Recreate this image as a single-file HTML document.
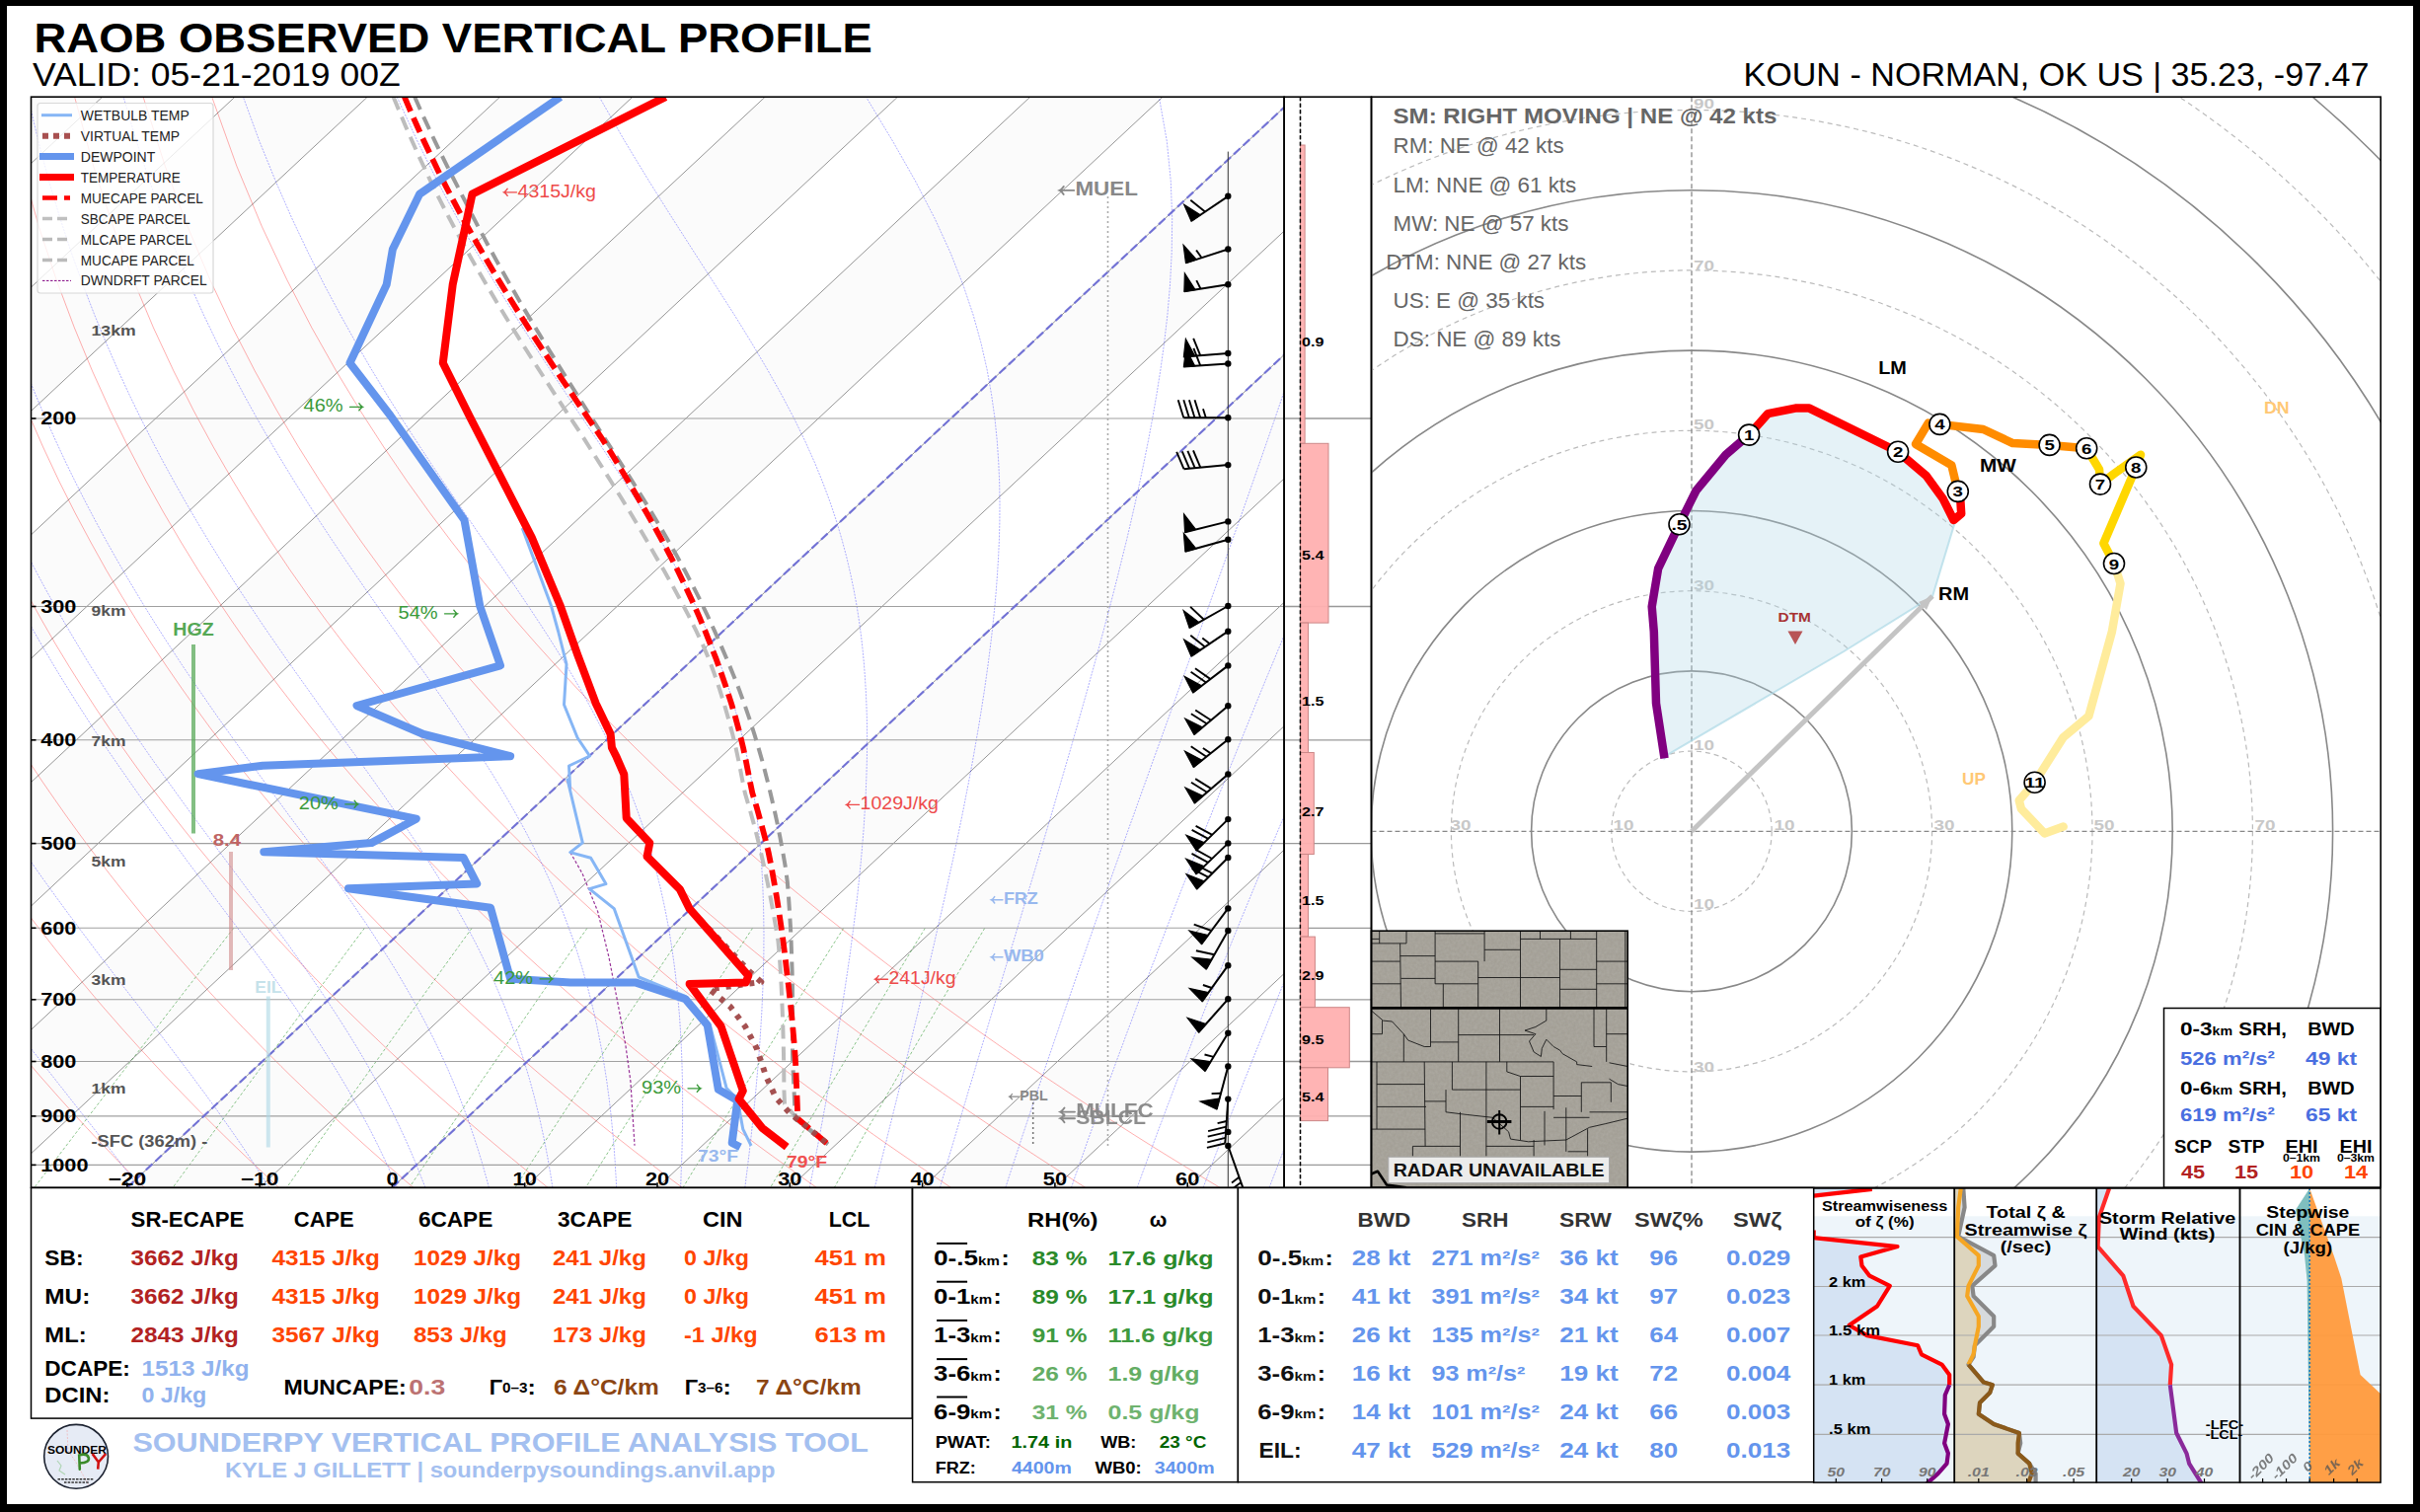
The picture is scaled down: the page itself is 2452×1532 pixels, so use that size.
<!DOCTYPE html><html><head><meta charset="utf-8"><style>html,body{margin:0;padding:0;background:#fff;}svg{display:block;}text{font-family:"Liberation Sans",sans-serif;}</style></head><body><svg width="2452" height="1532" viewBox="0 0 2452 1532" font-family="Liberation Sans, sans-serif">
<rect x="0" y="0" width="2452" height="1532" fill="#000"/>
<rect x="7" y="6" width="2438" height="1518" fill="#fff"/>
<text x="34.5" y="53.2" font-size="42.92" font-weight="bold" fill="#000" textLength="849.4" lengthAdjust="spacingAndGlyphs" >RAOB OBSERVED VERTICAL PROFILE</text>
<text x="33.0" y="87.0" font-size="32.90" font-weight="normal" fill="#000" textLength="372.7" lengthAdjust="spacingAndGlyphs" >VALID: 05-21-2019 00Z</text>
<text x="1766.5" y="87.0" font-size="32.90" font-weight="normal" fill="#000" textLength="634.0" lengthAdjust="spacingAndGlyphs" >KOUN - NORMAN, OK US | 35.23, -97.47</text>
<defs><clipPath id="cs"><rect x="31.5" y="98.2" width="1269.6" height="1105.1"/></clipPath>
<clipPath id="ch"><rect x="1389.5" y="98.2" width="1022.6999999999998" height="1105.1"/></clipPath></defs>
<g clip-path="url(#cs)">
<polygon points="-2288.6,1203.3 -2154.3,1203.3 -970.7,98.2 -1105.0,98.2" fill="#fbfbfb"/>
<polygon points="-2020.0,1203.3 -1885.7,1203.3 -702.1,98.2 -836.4,98.2" fill="#fbfbfb"/>
<polygon points="-1751.4,1203.3 -1617.1,1203.3 -433.5,98.2 -567.8,98.2" fill="#fbfbfb"/>
<polygon points="-1482.8,1203.3 -1348.5,1203.3 -164.9,98.2 -299.2,98.2" fill="#fbfbfb"/>
<polygon points="-1214.2,1203.3 -1079.9,1203.3 103.7,98.2 -30.6,98.2" fill="#fbfbfb"/>
<polygon points="-945.6,1203.3 -811.3,1203.3 372.3,98.2 238.0,98.2" fill="#fbfbfb"/>
<polygon points="-677.0,1203.3 -542.7,1203.3 640.9,98.2 506.6,98.2" fill="#fbfbfb"/>
<polygon points="-408.4,1203.3 -274.1,1203.3 909.5,98.2 775.2,98.2" fill="#fbfbfb"/>
<polygon points="-139.8,1203.3 -5.5,1203.3 1178.1,98.2 1043.8,98.2" fill="#fbfbfb"/>
<polygon points="128.8,1203.3 263.1,1203.3 1446.7,98.2 1312.4,98.2" fill="#fbfbfb"/>
<polygon points="397.4,1203.3 531.7,1203.3 1715.3,98.2 1581.0,98.2" fill="#fbfbfb"/>
<polygon points="666.0,1203.3 800.3,1203.3 1983.9,98.2 1849.6,98.2" fill="#fbfbfb"/>
<polygon points="934.6,1203.3 1068.9,1203.3 2252.5,98.2 2118.2,98.2" fill="#fbfbfb"/>
<polygon points="1203.2,1203.3 1337.5,1203.3 2521.1,98.2 2386.8,98.2" fill="#fbfbfb"/>
<line x1="-2288.6" y1="1203.3" x2="-1105.0" y2="98.2" stroke="#8a8a8a" stroke-width="1.0" opacity="0.9"/>
<line x1="-2154.3" y1="1203.3" x2="-970.7" y2="98.2" stroke="#8a8a8a" stroke-width="1.0" opacity="0.9"/>
<line x1="-2020.0" y1="1203.3" x2="-836.4" y2="98.2" stroke="#8a8a8a" stroke-width="1.0" opacity="0.9"/>
<line x1="-1885.7" y1="1203.3" x2="-702.1" y2="98.2" stroke="#8a8a8a" stroke-width="1.0" opacity="0.9"/>
<line x1="-1751.4" y1="1203.3" x2="-567.8" y2="98.2" stroke="#8a8a8a" stroke-width="1.0" opacity="0.9"/>
<line x1="-1617.1" y1="1203.3" x2="-433.5" y2="98.2" stroke="#8a8a8a" stroke-width="1.0" opacity="0.9"/>
<line x1="-1482.8" y1="1203.3" x2="-299.2" y2="98.2" stroke="#8a8a8a" stroke-width="1.0" opacity="0.9"/>
<line x1="-1348.5" y1="1203.3" x2="-164.9" y2="98.2" stroke="#8a8a8a" stroke-width="1.0" opacity="0.9"/>
<line x1="-1214.2" y1="1203.3" x2="-30.6" y2="98.2" stroke="#8a8a8a" stroke-width="1.0" opacity="0.9"/>
<line x1="-1079.9" y1="1203.3" x2="103.7" y2="98.2" stroke="#8a8a8a" stroke-width="1.0" opacity="0.9"/>
<line x1="-945.6" y1="1203.3" x2="238.0" y2="98.2" stroke="#8a8a8a" stroke-width="1.0" opacity="0.9"/>
<line x1="-811.3" y1="1203.3" x2="372.3" y2="98.2" stroke="#8a8a8a" stroke-width="1.0" opacity="0.9"/>
<line x1="-677.0" y1="1203.3" x2="506.6" y2="98.2" stroke="#8a8a8a" stroke-width="1.0" opacity="0.9"/>
<line x1="-542.7" y1="1203.3" x2="640.9" y2="98.2" stroke="#8a8a8a" stroke-width="1.0" opacity="0.9"/>
<line x1="-408.4" y1="1203.3" x2="775.2" y2="98.2" stroke="#8a8a8a" stroke-width="1.0" opacity="0.9"/>
<line x1="-274.1" y1="1203.3" x2="909.5" y2="98.2" stroke="#8a8a8a" stroke-width="1.0" opacity="0.9"/>
<line x1="-139.8" y1="1203.3" x2="1043.8" y2="98.2" stroke="#8a8a8a" stroke-width="1.0" opacity="0.9"/>
<line x1="-5.5" y1="1203.3" x2="1178.1" y2="98.2" stroke="#8a8a8a" stroke-width="1.0" opacity="0.9"/>
<line x1="128.8" y1="1203.3" x2="1312.4" y2="98.2" stroke="#8a8a8a" stroke-width="1.0" opacity="0.9"/>
<line x1="263.1" y1="1203.3" x2="1446.7" y2="98.2" stroke="#8a8a8a" stroke-width="1.0" opacity="0.9"/>
<line x1="397.4" y1="1203.3" x2="1581.0" y2="98.2" stroke="#8a8a8a" stroke-width="1.0" opacity="0.9"/>
<line x1="531.7" y1="1203.3" x2="1715.3" y2="98.2" stroke="#8a8a8a" stroke-width="1.0" opacity="0.9"/>
<line x1="666.0" y1="1203.3" x2="1849.6" y2="98.2" stroke="#8a8a8a" stroke-width="1.0" opacity="0.9"/>
<line x1="800.3" y1="1203.3" x2="1983.9" y2="98.2" stroke="#8a8a8a" stroke-width="1.0" opacity="0.9"/>
<line x1="934.6" y1="1203.3" x2="2118.2" y2="98.2" stroke="#8a8a8a" stroke-width="1.0" opacity="0.9"/>
<line x1="1068.9" y1="1203.3" x2="2252.5" y2="98.2" stroke="#8a8a8a" stroke-width="1.0" opacity="0.9"/>
<line x1="1203.2" y1="1203.3" x2="2386.8" y2="98.2" stroke="#8a8a8a" stroke-width="1.0" opacity="0.9"/>
<line x1="1337.5" y1="1203.3" x2="2521.1" y2="98.2" stroke="#8a8a8a" stroke-width="1.0" opacity="0.9"/>
<polyline points="10.3,1203.3 3.7,1196.1 -3.1,1188.7 -9.8,1181.2 -16.6,1173.6 -23.5,1165.9 -30.3,1158.0 -37.3,1150.0 -44.2,1141.8 -51.2,1133.5 -58.3,1125.1 -65.4,1116.5 -72.5,1107.8 -79.7,1098.8 -87.0,1089.8 -94.2,1080.5 -101.6,1071.0 -108.9,1061.4 -116.4,1051.5 -123.8,1041.5 -131.3,1031.2 -138.9,1020.7 -146.5,1009.9 -154.2,998.9 -161.9,987.7 -169.7,976.1 -177.5,964.3 -185.3,952.1 -193.3,939.7 -201.2,926.9 -209.2,913.7 -217.3,900.2 -225.4,886.2 -233.5,871.8 -241.7,857.0 -249.9,841.7 -258.2,825.9 -266.5,809.5 -274.8,792.6 -283.2,775.0 -291.6,756.7 -299.9,737.7 -308.3,717.8 -316.7,697.1 -325.0,675.5 -333.4,652.8 -341.6,628.9 -349.8,603.8 -357.8,577.3 -365.7,549.1 -373.4,519.2 -380.9,487.2 -387.9,452.9 -394.6,415.9 -400.6,375.8 -405.8,331.9 -410.0,283.4 -412.7,229.4 -413.5,168.4 -411.4,98.2" fill="none" stroke="#ff0000" stroke-width="0.8" stroke-linejoin="round" opacity="0.4"/>
<polyline points="146.5,1203.3 139.2,1196.1 131.9,1188.7 124.5,1181.2 117.1,1173.6 109.7,1165.9 102.1,1158.0 94.6,1150.0 87.0,1141.8 79.3,1133.5 71.6,1125.1 63.8,1116.5 56.0,1107.8 48.1,1098.8 40.1,1089.8 32.2,1080.5 24.1,1071.0 16.0,1061.4 7.8,1051.5 -0.4,1041.5 -8.7,1031.2 -17.0,1020.7 -25.4,1009.9 -33.9,998.9 -42.5,987.7 -51.1,976.1 -59.7,964.3 -68.4,952.1 -77.2,939.7 -86.1,926.9 -95.0,913.7 -104.0,900.2 -113.1,886.2 -122.2,871.8 -131.4,857.0 -140.6,841.7 -149.9,825.9 -159.3,809.5 -168.7,792.6 -178.2,775.0 -187.8,756.7 -197.3,737.7 -206.9,717.8 -216.6,697.1 -226.2,675.5 -235.9,652.8 -245.6,628.9 -255.2,603.8 -264.8,577.3 -274.2,549.1 -283.6,519.2 -292.7,487.2 -301.6,452.9 -310.2,415.9 -318.2,375.8 -325.6,331.9 -332.1,283.4 -337.4,229.4 -340.9,168.4 -341.8,98.2" fill="none" stroke="#ff0000" stroke-width="0.8" stroke-linejoin="round" opacity="0.4"/>
<polyline points="282.7,1203.3 274.8,1196.1 266.9,1188.7 258.9,1181.2 250.9,1173.6 242.8,1165.9 234.6,1158.0 226.4,1150.0 218.1,1141.8 209.8,1133.5 201.4,1125.1 193.0,1116.5 184.5,1107.8 175.9,1098.8 167.2,1089.8 158.5,1080.5 149.8,1071.0 140.9,1061.4 132.0,1051.5 123.0,1041.5 114.0,1031.2 104.8,1020.7 95.6,1009.9 86.4,998.9 77.0,987.7 67.6,976.1 58.0,964.3 48.5,952.1 38.8,939.7 29.0,926.9 19.2,913.7 9.2,900.2 -0.8,886.2 -10.9,871.8 -21.0,857.0 -31.3,841.7 -41.7,825.9 -52.1,809.5 -62.6,792.6 -73.3,775.0 -83.9,756.7 -94.7,737.7 -105.6,717.8 -116.5,697.1 -127.4,675.5 -138.5,652.8 -149.5,628.9 -160.6,603.8 -171.7,577.3 -182.7,549.1 -193.7,519.2 -204.6,487.2 -215.3,452.9 -225.8,415.9 -235.9,375.8 -245.5,331.9 -254.3,283.4 -262.1,229.4 -268.3,168.4 -272.2,98.2" fill="none" stroke="#ff0000" stroke-width="0.8" stroke-linejoin="round" opacity="0.4"/>
<polyline points="418.9,1203.3 410.4,1196.1 401.9,1188.7 393.3,1181.2 384.6,1173.6 375.9,1165.9 367.1,1158.0 358.3,1150.0 349.3,1141.8 340.3,1133.5 331.3,1125.1 322.2,1116.5 313.0,1107.8 303.7,1098.8 294.3,1089.8 284.9,1080.5 275.4,1071.0 265.8,1061.4 256.2,1051.5 246.4,1041.5 236.6,1031.2 226.7,1020.7 216.7,1009.9 206.6,998.9 196.4,987.7 186.2,976.1 175.8,964.3 165.4,952.1 154.8,939.7 144.1,926.9 133.4,913.7 122.5,900.2 111.5,886.2 100.5,871.8 89.3,857.0 78.0,841.7 66.6,825.9 55.1,809.5 43.4,792.6 31.7,775.0 19.9,756.7 7.9,737.7 -4.2,717.8 -16.4,697.1 -28.6,675.5 -41.0,652.8 -53.5,628.9 -66.0,603.8 -78.6,577.3 -91.2,549.1 -103.9,519.2 -116.5,487.2 -129.0,452.9 -141.4,415.9 -153.5,375.8 -165.3,331.9 -176.4,283.4 -186.7,229.4 -195.7,168.4 -202.7,98.2" fill="none" stroke="#ff0000" stroke-width="0.8" stroke-linejoin="round" opacity="0.4"/>
<polyline points="555.1,1203.3 546.0,1196.1 536.8,1188.7 527.6,1181.2 518.4,1173.6 509.0,1165.9 499.6,1158.0 490.1,1150.0 480.5,1141.8 470.9,1133.5 461.1,1125.1 451.3,1116.5 441.5,1107.8 431.5,1098.8 421.4,1089.8 411.3,1080.5 401.1,1071.0 390.8,1061.4 380.4,1051.5 369.9,1041.5 359.3,1031.2 348.6,1020.7 337.8,1009.9 326.9,998.9 315.9,987.7 304.8,976.1 293.6,964.3 282.2,952.1 270.8,939.7 259.3,926.9 247.6,913.7 235.8,900.2 223.8,886.2 211.8,871.8 199.6,857.0 187.3,841.7 174.9,825.9 162.3,809.5 149.5,792.6 136.7,775.0 123.7,756.7 110.5,737.7 97.2,717.8 83.8,697.1 70.2,675.5 56.4,652.8 42.6,628.9 28.6,603.8 14.5,577.3 0.3,549.1 -14.0,519.2 -28.4,487.2 -42.7,452.9 -57.0,415.9 -71.2,375.8 -85.1,331.9 -98.6,283.4 -111.4,229.4 -123.1,168.4 -133.1,98.2" fill="none" stroke="#ff0000" stroke-width="0.8" stroke-linejoin="round" opacity="0.4"/>
<polyline points="691.3,1203.3 681.6,1196.1 671.8,1188.7 662.0,1181.2 652.1,1173.6 642.1,1165.9 632.1,1158.0 621.9,1150.0 611.7,1141.8 601.4,1133.5 591.0,1125.1 580.5,1116.5 570.0,1107.8 559.3,1098.8 548.5,1089.8 537.7,1080.5 526.7,1071.0 515.7,1061.4 504.5,1051.5 493.3,1041.5 481.9,1031.2 470.5,1020.7 458.9,1009.9 447.2,998.9 435.3,987.7 423.4,976.1 411.3,964.3 399.1,952.1 386.8,939.7 374.4,926.9 361.8,913.7 349.0,900.2 336.2,886.2 323.1,871.8 309.9,857.0 296.6,841.7 283.1,825.9 269.5,809.5 255.6,792.6 241.6,775.0 227.5,756.7 213.1,737.7 198.6,717.8 183.9,697.1 169.0,675.5 153.9,652.8 138.6,628.9 123.2,603.8 107.5,577.3 91.8,549.1 75.8,519.2 59.7,487.2 43.6,452.9 27.4,415.9 11.2,375.8 -4.9,331.9 -20.7,283.4 -36.0,229.4 -50.5,168.4 -63.6,98.2" fill="none" stroke="#ff0000" stroke-width="0.8" stroke-linejoin="round" opacity="0.4"/>
<polyline points="827.4,1203.3 817.2,1196.1 806.8,1188.7 796.4,1181.2 785.8,1173.6 775.2,1165.9 764.5,1158.0 753.8,1150.0 742.9,1141.8 731.9,1133.5 720.9,1125.1 709.7,1116.5 698.5,1107.8 687.1,1098.8 675.6,1089.8 664.1,1080.5 652.4,1071.0 640.6,1061.4 628.7,1051.5 616.7,1041.5 604.6,1031.2 592.3,1020.7 579.9,1009.9 567.4,998.9 554.8,987.7 542.0,976.1 529.1,964.3 516.0,952.1 502.8,939.7 489.5,926.9 476.0,913.7 462.3,900.2 448.5,886.2 434.5,871.8 420.3,857.0 405.9,841.7 391.4,825.9 376.6,809.5 361.7,792.6 346.6,775.0 331.3,756.7 315.7,737.7 300.0,717.8 284.0,697.1 267.8,675.5 251.3,652.8 234.7,628.9 217.8,603.8 200.6,577.3 183.3,549.1 165.7,519.2 147.9,487.2 129.9,452.9 111.7,415.9 93.5,375.8 75.3,331.9 57.1,283.4 39.3,229.4 22.1,168.4 6.0,98.2" fill="none" stroke="#ff0000" stroke-width="0.8" stroke-linejoin="round" opacity="0.4"/>
<polyline points="963.6,1203.3 952.7,1196.1 941.8,1188.7 930.7,1181.2 919.6,1173.6 908.4,1165.9 897.0,1158.0 885.6,1150.0 874.1,1141.8 862.5,1133.5 850.7,1125.1 838.9,1116.5 827.0,1107.8 814.9,1098.8 802.7,1089.8 790.5,1080.5 778.1,1071.0 765.5,1061.4 752.9,1051.5 740.1,1041.5 727.2,1031.2 714.2,1020.7 701.0,1009.9 687.7,998.9 674.2,987.7 660.6,976.1 646.9,964.3 632.9,952.1 618.9,939.7 604.6,926.9 590.2,913.7 575.6,900.2 560.8,886.2 545.8,871.8 530.6,857.0 515.2,841.7 499.6,825.9 483.8,809.5 467.8,792.6 451.6,775.0 435.1,756.7 418.3,737.7 401.3,717.8 384.1,697.1 366.6,675.5 348.8,652.8 330.7,628.9 312.4,603.8 293.7,577.3 274.8,549.1 255.5,519.2 236.0,487.2 216.2,452.9 196.1,415.9 175.9,375.8 155.4,331.9 135.0,283.4 114.6,229.4 94.7,168.4 75.6,98.2" fill="none" stroke="#ff0000" stroke-width="0.8" stroke-linejoin="round" opacity="0.4"/>
<polyline points="1099.8,1203.3 1088.3,1196.1 1076.8,1188.7 1065.1,1181.2 1053.3,1173.6 1041.5,1165.9 1029.5,1158.0 1017.4,1150.0 1005.3,1141.8 993.0,1133.5 980.6,1125.1 968.1,1116.5 955.5,1107.8 942.7,1098.8 929.8,1089.8 916.8,1080.5 903.7,1071.0 890.5,1061.4 877.1,1051.5 863.6,1041.5 849.9,1031.2 836.1,1020.7 822.1,1009.9 808.0,998.9 793.7,987.7 779.2,976.1 764.6,964.3 749.8,952.1 734.9,939.7 719.7,926.9 704.4,913.7 688.8,900.2 673.1,886.2 657.1,871.8 640.9,857.0 624.5,841.7 607.9,825.9 591.0,809.5 573.9,792.6 556.5,775.0 538.9,756.7 520.9,737.7 502.7,717.8 484.2,697.1 465.4,675.5 446.2,652.8 426.8,628.9 406.9,603.8 386.8,577.3 366.3,549.1 345.4,519.2 324.1,487.2 302.5,452.9 280.5,415.9 258.2,375.8 235.6,331.9 212.8,283.4 190.0,229.4 167.3,168.4 145.1,98.2" fill="none" stroke="#ff0000" stroke-width="0.8" stroke-linejoin="round" opacity="0.4"/>
<polyline points="1236.0,1203.3 1223.9,1196.1 1211.7,1188.7 1199.5,1181.2 1187.1,1173.6 1174.6,1165.9 1162.0,1158.0 1149.3,1150.0 1136.5,1141.8 1123.5,1133.5 1110.4,1125.1 1097.3,1116.5 1084.0,1107.8 1070.5,1098.8 1056.9,1089.8 1043.2,1080.5 1029.4,1071.0 1015.4,1061.4 1001.3,1051.5 987.0,1041.5 972.5,1031.2 957.9,1020.7 943.2,1009.9 928.2,998.9 913.1,987.7 897.9,976.1 882.4,964.3 866.7,952.1 850.9,939.7 834.8,926.9 818.6,913.7 802.1,900.2 785.4,886.2 768.4,871.8 751.3,857.0 733.8,841.7 716.2,825.9 698.2,809.5 680.0,792.6 661.5,775.0 642.7,756.7 623.5,737.7 604.1,717.8 584.3,697.1 564.2,675.5 543.7,652.8 522.8,628.9 501.5,603.8 479.9,577.3 457.7,549.1 435.2,519.2 412.2,487.2 388.8,452.9 364.9,415.9 340.6,375.8 315.8,331.9 290.7,283.4 265.3,229.4 239.9,168.4 214.7,98.2" fill="none" stroke="#ff0000" stroke-width="0.8" stroke-linejoin="round" opacity="0.4"/>
<polyline points="7.9,1203.3 4.3,1198.8 0.6,1194.3 -3.1,1189.7 -6.8,1185.1 -10.5,1180.4 -10.5,1180.4 -14.3,1175.7 -18.1,1170.9 -22.0,1166.1 -25.9,1161.2 -29.8,1156.3 -33.8,1151.3 -37.7,1146.3 -41.8,1141.2 -45.8,1136.1 -49.9,1130.9 -54.0,1125.6 -58.1,1120.3 -62.3,1115.0 -66.5,1109.5 -70.8,1104.0 -75.0,1098.5 -79.3,1092.8 -83.6,1087.1 -88.0,1081.4 -92.4,1075.5 -96.8,1069.6 -101.2,1063.6 -105.7,1057.6 -110.2,1051.4 -114.7,1045.2 -119.3,1038.9 -123.9,1032.5 -128.5,1026.0 -133.1,1019.4 -137.8,1012.8 -142.5,1006.0 -147.2,999.2 -151.9,992.2 -156.7,985.1 -161.5,977.9 -166.3,970.7 -171.1,963.3 -176.0,955.7 -180.9,948.1 -185.8,940.3 -190.7,932.4 -195.7,924.4 -200.7,916.2 -205.7,907.9 -210.7,899.4 -215.7,890.8 -220.8,882.0 -225.9,873.1 -231.0,863.9 -236.1,854.6 -241.2,845.1 -246.4,835.4 -251.5,825.6 -256.7,815.4 -261.9,805.1 -267.1,794.6 -272.4,783.7 -277.6,772.7 -282.8,761.4 -288.1,749.8 -293.3,737.9 -298.6,725.7 -303.8,713.1 -309.1,700.2 -314.3,687.0 -319.6,673.4 -324.8,659.3 -330.0,644.9 -335.2,630.0 -340.3,614.5 -345.4,598.6 -350.5,582.1 -355.5,565.0 -360.4,547.3 -365.3,528.9 -370.0,509.7 -374.7,489.7 -379.2,468.8 -383.6,446.9 -387.8,424.0 -391.8,399.9 -395.5,374.5 -398.9,347.6 -402.0,319.1 -404.6,288.8 -406.7,256.3 -408.2,221.5 -408.9,183.9 -408.5,143.0 -407.0,98.2" fill="none" stroke="#0000ff" stroke-width="0.8" stroke-linejoin="round" opacity="0.4" stroke-dasharray="2,1.2"/>
<polyline points="141.2,1203.3 137.8,1198.8 134.4,1194.3 130.9,1189.7 127.4,1185.1 123.8,1180.4 123.8,1180.4 120.1,1175.7 116.4,1170.9 112.7,1166.1 108.9,1161.2 105.1,1156.3 101.2,1151.3 97.3,1146.3 93.3,1141.2 89.2,1136.1 85.1,1130.9 81.0,1125.6 76.8,1120.3 72.6,1115.0 68.3,1109.5 64.0,1104.0 59.6,1098.5 55.2,1092.8 50.7,1087.1 46.2,1081.4 41.6,1075.5 37.0,1069.6 32.3,1063.6 27.6,1057.6 22.9,1051.4 18.1,1045.2 13.2,1038.9 8.3,1032.5 3.4,1026.0 -1.6,1019.4 -6.6,1012.8 -11.7,1006.0 -16.8,999.2 -21.9,992.2 -27.1,985.1 -32.3,977.9 -37.6,970.7 -42.9,963.3 -48.2,955.7 -53.6,948.1 -59.0,940.3 -64.5,932.4 -70.0,924.4 -75.5,916.2 -81.1,907.9 -86.7,899.4 -92.3,890.8 -98.0,882.0 -103.7,873.1 -109.5,863.9 -115.2,854.6 -121.0,845.1 -126.9,835.4 -132.7,825.6 -138.6,815.4 -144.5,805.1 -150.5,794.6 -156.5,783.7 -162.4,772.7 -168.5,761.4 -174.5,749.8 -180.6,737.9 -186.7,725.7 -192.7,713.1 -198.9,700.2 -205.0,687.0 -211.1,673.4 -217.3,659.3 -223.4,644.9 -229.5,630.0 -235.7,614.5 -241.8,598.6 -247.9,582.1 -253.9,565.0 -260.0,547.3 -265.9,528.9 -271.9,509.7 -277.7,489.7 -283.5,468.8 -289.1,446.9 -294.6,424.0 -299.9,399.9 -305.1,374.5 -310.0,347.6 -314.6,319.1 -318.8,288.8 -322.6,256.3 -325.8,221.5 -328.3,183.9 -330.0,143.0 -330.5,98.2" fill="none" stroke="#0000ff" stroke-width="0.8" stroke-linejoin="round" opacity="0.4" stroke-dasharray="2,1.2"/>
<polyline points="272.7,1203.3 269.9,1198.8 267.0,1194.3 264.1,1189.7 261.1,1185.1 258.1,1180.4 258.1,1180.4 255.0,1175.7 251.8,1170.9 248.6,1166.1 245.3,1161.2 241.9,1156.3 238.5,1151.3 235.0,1146.3 231.5,1141.2 227.8,1136.1 224.1,1130.9 220.4,1125.6 216.5,1120.3 212.6,1115.0 208.7,1109.5 204.6,1104.0 200.5,1098.5 196.3,1092.8 192.1,1087.1 187.7,1081.4 183.3,1075.5 178.8,1069.6 174.3,1063.6 169.7,1057.6 165.0,1051.4 160.2,1045.2 155.3,1038.9 150.4,1032.5 145.4,1026.0 140.4,1019.4 135.2,1012.8 130.0,1006.0 124.7,999.2 119.4,992.2 114.0,985.1 108.5,977.9 102.9,970.7 97.3,963.3 91.6,955.7 85.9,948.1 80.0,940.3 74.2,932.4 68.2,924.4 62.2,916.2 56.1,907.9 50.0,899.4 43.8,890.8 37.6,882.0 31.3,873.1 24.9,863.9 18.5,854.6 12.0,845.1 5.5,835.4 -1.0,825.6 -7.7,815.4 -14.3,805.1 -21.0,794.6 -27.8,783.7 -34.6,772.7 -41.5,761.4 -48.4,749.8 -55.3,737.9 -62.3,725.7 -69.3,713.1 -76.4,700.2 -83.5,687.0 -90.6,673.4 -97.7,659.3 -104.9,644.9 -112.1,630.0 -119.3,614.5 -126.5,598.6 -133.8,582.1 -141.0,565.0 -148.3,547.3 -155.5,528.9 -162.7,509.7 -169.9,489.7 -177.0,468.8 -184.0,446.9 -191.0,424.0 -197.8,399.9 -204.5,374.5 -211.0,347.6 -217.3,319.1 -223.3,288.8 -229.0,256.3 -234.2,221.5 -238.8,183.9 -242.6,143.0 -245.5,98.2" fill="none" stroke="#0000ff" stroke-width="0.8" stroke-linejoin="round" opacity="0.4" stroke-dasharray="2,1.2"/>
<polyline points="402.4,1203.3 400.5,1198.8 398.6,1194.3 396.6,1189.7 394.5,1185.1 392.4,1180.4 392.4,1180.4 390.2,1175.7 387.9,1170.9 385.6,1166.1 383.3,1161.2 380.8,1156.3 378.3,1151.3 375.8,1146.3 373.1,1141.2 370.4,1136.1 367.6,1130.9 364.8,1125.6 361.8,1120.3 358.8,1115.0 355.7,1109.5 352.6,1104.0 349.3,1098.5 345.9,1092.8 342.5,1087.1 339.0,1081.4 335.3,1075.5 331.6,1069.6 327.8,1063.6 323.9,1057.6 319.8,1051.4 315.7,1045.2 311.5,1038.9 307.1,1032.5 302.7,1026.0 298.2,1019.4 293.5,1012.8 288.7,1006.0 283.8,999.2 278.8,992.2 273.7,985.1 268.5,977.9 263.2,970.7 257.7,963.3 252.1,955.7 246.5,948.1 240.7,940.3 234.7,932.4 228.7,924.4 222.6,916.2 216.3,907.9 210.0,899.4 203.5,890.8 196.9,882.0 190.2,873.1 183.5,863.9 176.6,854.6 169.6,845.1 162.5,835.4 155.3,825.6 148.0,815.4 140.6,805.1 133.2,794.6 125.6,783.7 118.0,772.7 110.2,761.4 102.4,749.8 94.5,737.9 86.6,725.7 78.5,713.1 70.4,700.2 62.2,687.0 54.0,673.4 45.6,659.3 37.3,644.9 28.8,630.0 20.3,614.5 11.8,598.6 3.2,582.1 -5.5,565.0 -14.1,547.3 -22.9,528.9 -31.6,509.7 -40.3,489.7 -49.1,468.8 -57.8,446.9 -66.5,424.0 -75.2,399.9 -83.7,374.5 -92.2,347.6 -100.6,319.1 -108.7,288.8 -116.6,256.3 -124.1,221.5 -131.2,183.9 -137.7,143.0 -143.4,98.2" fill="none" stroke="#0000ff" stroke-width="0.8" stroke-linejoin="round" opacity="0.4" stroke-dasharray="2,1.2"/>
<polyline points="430.9,1203.3 429.2,1198.8 427.4,1194.3 425.6,1189.7 423.8,1185.1 421.9,1180.4 421.9,1180.4 420.0,1175.7 418.0,1170.9 415.9,1166.1 413.8,1161.2 411.6,1156.3 409.4,1151.3 407.0,1146.3 404.7,1141.2 402.2,1136.1 399.7,1130.9 397.1,1125.6 394.4,1120.3 391.7,1115.0 388.9,1109.5 385.9,1104.0 383.0,1098.5 379.9,1092.8 376.7,1087.1 373.4,1081.4 370.1,1075.5 366.6,1069.6 363.1,1063.6 359.4,1057.6 355.6,1051.4 351.8,1045.2 347.8,1038.9 343.7,1032.5 339.5,1026.0 335.2,1019.4 330.8,1012.8 326.2,1006.0 321.6,999.2 316.8,992.2 311.9,985.1 306.8,977.9 301.7,970.7 296.4,963.3 291.0,955.7 285.4,948.1 279.8,940.3 274.0,932.4 268.0,924.4 262.0,916.2 255.8,907.9 249.5,899.4 243.1,890.8 236.5,882.0 229.8,873.1 223.0,863.9 216.1,854.6 209.1,845.1 201.9,835.4 194.6,825.6 187.2,815.4 179.8,805.1 172.2,794.6 164.5,783.7 156.6,772.7 148.7,761.4 140.7,749.8 132.6,737.9 124.5,725.7 116.2,713.1 107.8,700.2 99.4,687.0 90.8,673.4 82.2,659.3 73.6,644.9 64.8,630.0 56.0,614.5 47.1,598.6 38.2,582.1 29.2,565.0 20.2,547.3 11.1,528.9 2.0,509.7 -7.2,489.7 -16.4,468.8 -25.5,446.9 -34.7,424.0 -43.8,399.9 -52.8,374.5 -61.8,347.6 -70.7,319.1 -79.4,288.8 -87.8,256.3 -96.0,221.5 -103.7,183.9 -110.8,143.0 -117.2,98.2" fill="none" stroke="#0000ff" stroke-width="0.8" stroke-linejoin="round" opacity="0.4" stroke-dasharray="2,1.2"/>
<polyline points="495.4,1203.3 494.2,1198.8 493.0,1194.3 491.7,1189.7 490.4,1185.1 489.1,1180.4 489.1,1180.4 487.7,1175.7 486.2,1170.9 484.8,1166.1 483.2,1161.2 481.6,1156.3 480.0,1151.3 478.3,1146.3 476.6,1141.2 474.8,1136.1 472.9,1130.9 470.9,1125.6 468.9,1120.3 466.9,1115.0 464.7,1109.5 462.5,1104.0 460.2,1098.5 457.8,1092.8 455.4,1087.1 452.9,1081.4 450.2,1075.5 447.5,1069.6 444.7,1063.6 441.8,1057.6 438.8,1051.4 435.6,1045.2 432.4,1038.9 429.1,1032.5 425.6,1026.0 422.0,1019.4 418.4,1012.8 414.5,1006.0 410.6,999.2 406.5,992.2 402.3,985.1 397.9,977.9 393.4,970.7 388.7,963.3 383.9,955.7 379.0,948.1 373.9,940.3 368.6,932.4 363.2,924.4 357.6,916.2 351.8,907.9 345.9,899.4 339.8,890.8 333.5,882.0 327.1,873.1 320.5,863.9 313.7,854.6 306.8,845.1 299.7,835.4 292.4,825.6 285.0,815.4 277.4,805.1 269.7,794.6 261.8,783.7 253.7,772.7 245.5,761.4 237.2,749.8 228.7,737.9 220.0,725.7 211.3,713.1 202.4,700.2 193.4,687.0 184.2,673.4 175.0,659.3 165.6,644.9 156.1,630.0 146.5,614.5 136.9,598.6 127.1,582.1 117.2,565.0 107.3,547.3 97.3,528.9 87.2,509.7 77.0,489.7 66.8,468.8 56.6,446.9 46.3,424.0 36.0,399.9 25.7,374.5 15.5,347.6 5.3,319.1 -4.8,288.8 -14.7,256.3 -24.4,221.5 -33.7,183.9 -42.6,143.0 -50.8,98.2" fill="none" stroke="#0000ff" stroke-width="0.8" stroke-linejoin="round" opacity="0.4" stroke-dasharray="2,1.2"/>
<polyline points="559.9,1203.3 559.2,1198.8 558.5,1194.3 557.8,1189.7 557.0,1185.1 556.2,1180.4 556.2,1180.4 555.4,1175.7 554.5,1170.9 553.6,1166.1 552.7,1161.2 551.7,1156.3 550.7,1151.3 549.6,1146.3 548.5,1141.2 547.4,1136.1 546.2,1130.9 544.9,1125.6 543.6,1120.3 542.3,1115.0 540.9,1109.5 539.4,1104.0 537.9,1098.5 536.3,1092.8 534.6,1087.1 532.9,1081.4 531.1,1075.5 529.2,1069.6 527.3,1063.6 525.3,1057.6 523.1,1051.4 520.9,1045.2 518.6,1038.9 516.2,1032.5 513.7,1026.0 511.1,1019.4 508.4,1012.8 505.5,1006.0 502.6,999.2 499.5,992.2 496.3,985.1 492.9,977.9 489.4,970.7 485.8,963.3 482.0,955.7 478.0,948.1 473.9,940.3 469.6,932.4 465.1,924.4 460.4,916.2 455.6,907.9 450.6,899.4 445.3,890.8 439.9,882.0 434.2,873.1 428.3,863.9 422.3,854.6 415.9,845.1 409.4,835.4 402.6,825.6 395.6,815.4 388.4,805.1 381.0,794.6 373.3,783.7 365.4,772.7 357.2,761.4 348.8,749.8 340.3,737.9 331.4,725.7 322.4,713.1 313.2,700.2 303.8,687.0 294.1,673.4 284.3,659.3 274.3,644.9 264.1,630.0 253.8,614.5 243.3,598.6 232.6,582.1 221.8,565.0 210.9,547.3 199.8,528.9 188.6,509.7 177.3,489.7 165.8,468.8 154.3,446.9 142.7,424.0 131.0,399.9 119.3,374.5 107.6,347.6 95.8,319.1 84.1,288.8 72.4,256.3 61.0,221.5 49.7,183.9 38.8,143.0 28.3,98.2" fill="none" stroke="#0000ff" stroke-width="0.8" stroke-linejoin="round" opacity="0.4" stroke-dasharray="2,1.2"/>
<polyline points="624.6,1203.3 624.4,1198.8 624.2,1194.3 623.9,1189.7 623.6,1185.1 623.4,1180.4 623.4,1180.4 623.1,1175.7 622.7,1170.9 622.4,1166.1 622.0,1161.2 621.6,1156.3 621.2,1151.3 620.7,1146.3 620.2,1141.2 619.7,1136.1 619.2,1130.9 618.6,1125.6 618.0,1120.3 617.4,1115.0 616.7,1109.5 615.9,1104.0 615.2,1098.5 614.4,1092.8 613.5,1087.1 612.6,1081.4 611.6,1075.5 610.6,1069.6 609.6,1063.6 608.4,1057.6 607.2,1051.4 606.0,1045.2 604.7,1038.9 603.3,1032.5 601.8,1026.0 600.2,1019.4 598.6,1012.8 596.9,1006.0 595.1,999.2 593.1,992.2 591.1,985.1 589.0,977.9 586.7,970.7 584.4,963.3 581.9,955.7 579.2,948.1 576.4,940.3 573.5,932.4 570.4,924.4 567.1,916.2 563.7,907.9 560.1,899.4 556.3,890.8 552.2,882.0 548.0,873.1 543.5,863.9 538.8,854.6 533.9,845.1 528.7,835.4 523.2,825.6 517.5,815.4 511.4,805.1 505.1,794.6 498.5,783.7 491.5,772.7 484.2,761.4 476.6,749.8 468.7,737.9 460.5,725.7 451.9,713.1 442.9,700.2 433.7,687.0 424.1,673.4 414.2,659.3 404.0,644.9 393.4,630.0 382.6,614.5 371.5,598.6 360.1,582.1 348.4,565.0 336.5,547.3 324.3,528.9 312.0,509.7 299.4,489.7 286.6,468.8 273.6,446.9 260.4,424.0 247.1,399.9 233.7,374.5 220.1,347.6 206.4,319.1 192.7,288.8 179.0,256.3 165.2,221.5 151.6,183.9 138.2,143.0 125.1,98.2" fill="none" stroke="#0000ff" stroke-width="0.8" stroke-linejoin="round" opacity="0.4" stroke-dasharray="2,1.2"/>
<polyline points="689.5,1203.3 689.8,1198.8 690.0,1194.3 690.1,1189.7 690.3,1185.1 690.5,1180.4 690.5,1180.4 690.7,1175.7 690.8,1170.9 691.0,1166.1 691.1,1161.2 691.2,1156.3 691.3,1151.3 691.4,1146.3 691.5,1141.2 691.6,1136.1 691.6,1130.9 691.6,1125.6 691.6,1120.3 691.6,1115.0 691.6,1109.5 691.5,1104.0 691.5,1098.5 691.4,1092.8 691.2,1087.1 691.1,1081.4 690.9,1075.5 690.7,1069.6 690.4,1063.6 690.2,1057.6 689.8,1051.4 689.5,1045.2 689.1,1038.9 688.7,1032.5 688.2,1026.0 687.6,1019.4 687.0,1012.8 686.4,1006.0 685.7,999.2 684.9,992.2 684.1,985.1 683.2,977.9 682.2,970.7 681.2,963.3 680.0,955.7 678.8,948.1 677.5,940.3 676.0,932.4 674.5,924.4 672.8,916.2 671.0,907.9 669.1,899.4 667.0,890.8 664.8,882.0 662.4,873.1 659.8,863.9 657.0,854.6 654.0,845.1 650.8,835.4 647.4,825.6 643.7,815.4 639.8,805.1 635.6,794.6 631.0,783.7 626.2,772.7 621.0,761.4 615.4,749.8 609.5,737.9 603.1,725.7 596.4,713.1 589.1,700.2 581.5,687.0 573.3,673.4 564.6,659.3 555.5,644.9 545.8,630.0 535.6,614.5 524.9,598.6 513.7,582.1 501.9,565.0 489.7,547.3 477.0,528.9 463.8,509.7 450.2,489.7 436.2,468.8 421.8,446.9 407.0,424.0 391.9,399.9 376.5,374.5 360.8,347.6 344.9,319.1 328.7,288.8 312.4,256.3 295.9,221.5 279.4,183.9 262.8,143.0 246.4,98.2" fill="none" stroke="#0000ff" stroke-width="0.8" stroke-linejoin="round" opacity="0.4" stroke-dasharray="2,1.2"/>
<polyline points="754.8,1203.3 755.4,1198.8 755.9,1194.3 756.5,1189.7 757.1,1185.1 757.7,1180.4 757.7,1180.4 758.2,1175.7 758.8,1170.9 759.4,1166.1 759.9,1161.2 760.5,1156.3 761.1,1151.3 761.6,1146.3 762.2,1141.2 762.7,1136.1 763.3,1130.9 763.8,1125.6 764.3,1120.3 764.9,1115.0 765.4,1109.5 765.9,1104.0 766.4,1098.5 766.9,1092.8 767.4,1087.1 767.9,1081.4 768.4,1075.5 768.9,1069.6 769.3,1063.6 769.8,1057.6 770.2,1051.4 770.6,1045.2 771.0,1038.9 771.4,1032.5 771.8,1026.0 772.1,1019.4 772.4,1012.8 772.7,1006.0 773.0,999.2 773.2,992.2 773.4,985.1 773.6,977.9 773.8,970.7 773.9,963.3 773.9,955.7 774.0,948.1 773.9,940.3 773.8,932.4 773.7,924.4 773.5,916.2 773.2,907.9 772.9,899.4 772.5,890.8 772.0,882.0 771.4,873.1 770.7,863.9 769.9,854.6 768.9,845.1 767.9,835.4 766.7,825.6 765.3,815.4 763.8,805.1 762.1,794.6 760.2,783.7 758.0,772.7 755.7,761.4 753.0,749.8 750.1,737.9 746.8,725.7 743.2,713.1 739.2,700.2 734.8,687.0 730.0,673.4 724.6,659.3 718.7,644.9 712.2,630.0 705.1,614.5 697.2,598.6 688.7,582.1 679.4,565.0 669.3,547.3 658.3,528.9 646.5,509.7 633.7,489.7 620.1,468.8 605.7,446.9 590.3,424.0 574.2,399.9 557.3,374.5 539.7,347.6 521.5,319.1 502.7,288.8 483.3,256.3 463.5,221.5 443.3,183.9 422.9,143.0 402.2,98.2" fill="none" stroke="#0000ff" stroke-width="0.8" stroke-linejoin="round" opacity="0.4" stroke-dasharray="2,1.2"/>
<polyline points="820.4,1203.3 821.2,1198.8 822.1,1194.3 823.0,1189.7 823.9,1185.1 824.8,1180.4 824.8,1180.4 825.7,1175.7 826.6,1170.9 827.5,1166.1 828.5,1161.2 829.4,1156.3 830.3,1151.3 831.3,1146.3 832.2,1141.2 833.2,1136.1 834.1,1130.9 835.1,1125.6 836.1,1120.3 837.1,1115.0 838.0,1109.5 839.0,1104.0 840.0,1098.5 841.0,1092.8 842.0,1087.1 843.0,1081.4 844.1,1075.5 845.1,1069.6 846.1,1063.6 847.1,1057.6 848.2,1051.4 849.2,1045.2 850.2,1038.9 851.3,1032.5 852.3,1026.0 853.4,1019.4 854.4,1012.8 855.4,1006.0 856.5,999.2 857.5,992.2 858.6,985.1 859.6,977.9 860.7,970.7 861.7,963.3 862.7,955.7 863.7,948.1 864.7,940.3 865.7,932.4 866.7,924.4 867.7,916.2 868.7,907.9 869.6,899.4 870.5,890.8 871.4,882.0 872.3,873.1 873.1,863.9 873.9,854.6 874.7,845.1 875.4,835.4 876.0,825.6 876.6,815.4 877.2,805.1 877.6,794.6 878.0,783.7 878.3,772.7 878.5,761.4 878.6,749.8 878.5,737.9 878.3,725.7 877.9,713.1 877.3,700.2 876.5,687.0 875.5,673.4 874.2,659.3 872.6,644.9 870.6,630.0 868.2,614.5 865.3,598.6 861.9,582.1 857.9,565.0 853.2,547.3 847.8,528.9 841.4,509.7 834.0,489.7 825.5,468.8 815.7,446.9 804.6,424.0 791.9,399.9 777.6,374.5 761.7,347.6 744.1,319.1 724.7,288.8 703.8,256.3 681.5,221.5 657.8,183.9 633.0,143.0 607.2,98.2" fill="none" stroke="#0000ff" stroke-width="0.8" stroke-linejoin="round" opacity="0.4" stroke-dasharray="2,1.2"/>
<polyline points="886.2,1203.3 887.4,1198.8 888.5,1194.3 889.6,1189.7 890.8,1185.1 892.0,1180.4 892.0,1180.4 893.1,1175.7 894.3,1170.9 895.5,1166.1 896.7,1161.2 898.0,1156.3 899.2,1151.3 900.4,1146.3 901.7,1141.2 903.0,1136.1 904.3,1130.9 905.6,1125.6 906.9,1120.3 908.2,1115.0 909.6,1109.5 910.9,1104.0 912.3,1098.5 913.7,1092.8 915.1,1087.1 916.5,1081.4 917.9,1075.5 919.4,1069.6 920.8,1063.6 922.3,1057.6 923.8,1051.4 925.3,1045.2 926.8,1038.9 928.4,1032.5 930.0,1026.0 931.5,1019.4 933.1,1012.8 934.8,1006.0 936.4,999.2 938.0,992.2 939.7,985.1 941.4,977.9 943.1,970.7 944.8,963.3 946.6,955.7 948.3,948.1 950.1,940.3 951.9,932.4 953.8,924.4 955.6,916.2 957.5,907.9 959.3,899.4 961.2,890.8 963.1,882.0 965.1,873.1 967.0,863.9 969.0,854.6 971.0,845.1 973.0,835.4 975.0,825.6 977.0,815.4 979.0,805.1 981.1,794.6 983.1,783.7 985.2,772.7 987.2,761.4 989.2,749.8 991.3,737.9 993.3,725.7 995.3,713.1 997.3,700.2 999.2,687.0 1001.1,673.4 1002.9,659.3 1004.7,644.9 1006.3,630.0 1007.9,614.5 1009.3,598.6 1010.5,582.1 1011.6,565.0 1012.4,547.3 1012.9,528.9 1013.0,509.7 1012.7,489.7 1011.8,468.8 1010.3,446.9 1008.0,424.0 1004.6,399.9 1000.1,374.5 994.0,347.6 986.1,319.1 975.9,288.8 963.1,256.3 947.2,221.5 927.7,183.9 904.5,143.0 877.5,98.2" fill="none" stroke="#0000ff" stroke-width="0.8" stroke-linejoin="round" opacity="0.4" stroke-dasharray="2,1.2"/>
<polyline points="952.4,1203.3 953.7,1198.8 955.0,1194.3 956.4,1189.7 957.7,1185.1 959.1,1180.4 959.1,1180.4 960.5,1175.7 961.9,1170.9 963.3,1166.1 964.8,1161.2 966.2,1156.3 967.7,1151.3 969.2,1146.3 970.7,1141.2 972.2,1136.1 973.7,1130.9 975.3,1125.6 976.9,1120.3 978.5,1115.0 980.1,1109.5 981.7,1104.0 983.4,1098.5 985.1,1092.8 986.8,1087.1 988.5,1081.4 990.2,1075.5 992.0,1069.6 993.8,1063.6 995.6,1057.6 997.5,1051.4 999.3,1045.2 1001.2,1038.9 1003.1,1032.5 1005.1,1026.0 1007.1,1019.4 1009.1,1012.8 1011.1,1006.0 1013.2,999.2 1015.3,992.2 1017.4,985.1 1019.6,977.9 1021.8,970.7 1024.0,963.3 1026.3,955.7 1028.6,948.1 1030.9,940.3 1033.3,932.4 1035.7,924.4 1038.1,916.2 1040.6,907.9 1043.2,899.4 1045.8,890.8 1048.4,882.0 1051.1,873.1 1053.8,863.9 1056.6,854.6 1059.4,845.1 1062.3,835.4 1065.2,825.6 1068.2,815.4 1071.2,805.1 1074.3,794.6 1077.5,783.7 1080.7,772.7 1084.0,761.4 1087.3,749.8 1090.7,737.9 1094.2,725.7 1097.7,713.1 1101.4,700.2 1105.0,687.0 1108.8,673.4 1112.6,659.3 1116.5,644.9 1120.5,630.0 1124.6,614.5 1128.7,598.6 1132.9,582.1 1137.1,565.0 1141.5,547.3 1145.8,528.9 1150.2,509.7 1154.6,489.7 1159.0,468.8 1163.4,446.9 1167.7,424.0 1171.9,399.9 1175.9,374.5 1179.6,347.6 1182.9,319.1 1185.5,288.8 1187.2,256.3 1187.7,221.5 1186.3,183.9 1182.3,143.0 1174.4,98.2" fill="none" stroke="#0000ff" stroke-width="0.8" stroke-linejoin="round" opacity="0.4" stroke-dasharray="2,1.2"/>
<polyline points="1018.8,1203.3 1020.3,1198.8 1021.7,1194.3 1023.2,1189.7 1024.7,1185.1 1026.3,1180.4 1026.3,1180.4 1027.8,1175.7 1029.4,1170.9 1031.0,1166.1 1032.6,1161.2 1034.2,1156.3 1035.8,1151.3 1037.5,1146.3 1039.2,1141.2 1040.9,1136.1 1042.6,1130.9 1044.4,1125.6 1046.1,1120.3 1047.9,1115.0 1049.8,1109.5 1051.6,1104.0 1053.5,1098.5 1055.4,1092.8 1057.3,1087.1 1059.2,1081.4 1061.2,1075.5 1063.2,1069.6 1065.3,1063.6 1067.3,1057.6 1069.4,1051.4 1071.6,1045.2 1073.7,1038.9 1075.9,1032.5 1078.1,1026.0 1080.4,1019.4 1082.7,1012.8 1085.0,1006.0 1087.4,999.2 1089.8,992.2 1092.3,985.1 1094.8,977.9 1097.3,970.7 1099.9,963.3 1102.5,955.7 1105.2,948.1 1107.9,940.3 1110.7,932.4 1113.5,924.4 1116.4,916.2 1119.4,907.9 1122.4,899.4 1125.4,890.8 1128.5,882.0 1131.7,873.1 1135.0,863.9 1138.3,854.6 1141.7,845.1 1145.1,835.4 1148.7,825.6 1152.3,815.4 1156.0,805.1 1159.8,794.6 1163.7,783.7 1167.6,772.7 1171.7,761.4 1175.9,749.8 1180.2,737.9 1184.6,725.7 1189.1,713.1 1193.7,700.2 1198.5,687.0 1203.4,673.4 1208.5,659.3 1213.7,644.9 1219.1,630.0 1224.6,614.5 1230.3,598.6 1236.2,582.1 1242.3,565.0 1248.6,547.3 1255.2,528.9 1262.0,509.7 1269.0,489.7 1276.3,468.8 1283.9,446.9 1291.8,424.0 1300.0,399.9 1308.5,374.5 1317.4,347.6 1326.6,319.1 1336.3,288.8 1346.2,256.3 1356.6,221.5 1367.2,183.9 1378.1,143.0 1388.9,98.2" fill="none" stroke="#0000ff" stroke-width="0.8" stroke-linejoin="round" opacity="0.4" stroke-dasharray="2,1.2"/>
<polyline points="1085.4,1203.3 1087.0,1198.8 1088.5,1194.3 1090.1,1189.7 1091.8,1185.1 1093.4,1180.4 1093.4,1180.4 1095.1,1175.7 1096.8,1170.9 1098.5,1166.1 1100.2,1161.2 1101.9,1156.3 1103.7,1151.3 1105.5,1146.3 1107.3,1141.2 1109.1,1136.1 1111.0,1130.9 1112.9,1125.6 1114.8,1120.3 1116.8,1115.0 1118.7,1109.5 1120.7,1104.0 1122.7,1098.5 1124.8,1092.8 1126.9,1087.1 1129.0,1081.4 1131.1,1075.5 1133.3,1069.6 1135.5,1063.6 1137.8,1057.6 1140.0,1051.4 1142.3,1045.2 1144.7,1038.9 1147.1,1032.5 1149.5,1026.0 1152.0,1019.4 1154.5,1012.8 1157.0,1006.0 1159.6,999.2 1162.2,992.2 1164.9,985.1 1167.6,977.9 1170.4,970.7 1173.2,963.3 1176.1,955.7 1179.1,948.1 1182.1,940.3 1185.1,932.4 1188.2,924.4 1191.4,916.2 1194.6,907.9 1197.9,899.4 1201.3,890.8 1204.7,882.0 1208.2,873.1 1211.8,863.9 1215.5,854.6 1219.3,845.1 1223.1,835.4 1227.1,825.6 1231.1,815.4 1235.2,805.1 1239.5,794.6 1243.8,783.7 1248.3,772.7 1252.9,761.4 1257.6,749.8 1262.4,737.9 1267.4,725.7 1272.5,713.1 1277.8,700.2 1283.2,687.0 1288.9,673.4 1294.7,659.3 1300.7,644.9 1306.9,630.0 1313.3,614.5 1319.9,598.6 1326.8,582.1 1334.0,565.0 1341.5,547.3 1349.2,528.9 1357.4,509.7 1365.8,489.7 1374.7,468.8 1384.0,446.9 1393.8,424.0 1404.0,399.9 1414.9,374.5 1426.4,347.6 1438.5,319.1 1451.5,288.8 1465.3,256.3 1480.1,221.5 1496.0,183.9 1513.3,143.0 1531.9,98.2" fill="none" stroke="#0000ff" stroke-width="0.8" stroke-linejoin="round" opacity="0.4" stroke-dasharray="2,1.2"/>
<polyline points="1152.2,1203.3 1153.8,1198.8 1155.5,1194.3 1157.1,1189.7 1158.8,1185.1 1160.6,1180.4 1160.6,1180.4 1162.3,1175.7 1164.1,1170.9 1165.9,1166.1 1167.7,1161.2 1169.5,1156.3 1171.4,1151.3 1173.2,1146.3 1175.1,1141.2 1177.1,1136.1 1179.0,1130.9 1181.0,1125.6 1183.0,1120.3 1185.1,1115.0 1187.1,1109.5 1189.2,1104.0 1191.3,1098.5 1193.5,1092.8 1195.7,1087.1 1197.9,1081.4 1200.2,1075.5 1202.4,1069.6 1204.8,1063.6 1207.1,1057.6 1209.5,1051.4 1212.0,1045.2 1214.4,1038.9 1216.9,1032.5 1219.5,1026.0 1222.1,1019.4 1224.7,1012.8 1227.4,1006.0 1230.2,999.2 1232.9,992.2 1235.8,985.1 1238.7,977.9 1241.6,970.7 1244.6,963.3 1247.6,955.7 1250.7,948.1 1253.9,940.3 1257.1,932.4 1260.4,924.4 1263.8,916.2 1267.2,907.9 1270.7,899.4 1274.3,890.8 1277.9,882.0 1281.7,873.1 1285.5,863.9 1289.4,854.6 1293.4,845.1 1297.5,835.4 1301.7,825.6 1306.0,815.4 1310.4,805.1 1314.9,794.6 1319.5,783.7 1324.3,772.7 1329.2,761.4 1334.2,749.8 1339.4,737.9 1344.8,725.7 1350.3,713.1 1355.9,700.2 1361.8,687.0 1367.8,673.4 1374.1,659.3 1380.5,644.9 1387.2,630.0 1394.2,614.5 1401.4,598.6 1408.9,582.1 1416.7,565.0 1424.8,547.3 1433.3,528.9 1442.2,509.7 1451.4,489.7 1461.2,468.8 1471.4,446.9 1482.2,424.0 1493.6,399.9 1505.7,374.5 1518.5,347.6 1532.1,319.1 1546.8,288.8 1562.5,256.3 1579.4,221.5 1597.8,183.9 1617.9,143.0 1640.0,98.2" fill="none" stroke="#0000ff" stroke-width="0.8" stroke-linejoin="round" opacity="0.4" stroke-dasharray="2,1.2"/>
<polyline points="1219.1,1203.3 1220.8,1198.8 1222.5,1194.3 1224.2,1189.7 1225.9,1185.1 1227.7,1180.4 1227.7,1180.4 1229.5,1175.7 1231.3,1170.9 1233.2,1166.1 1235.0,1161.2 1236.9,1156.3 1238.8,1151.3 1240.7,1146.3 1242.7,1141.2 1244.7,1136.1 1246.7,1130.9 1248.8,1125.6 1250.8,1120.3 1252.9,1115.0 1255.1,1109.5 1257.2,1104.0 1259.4,1098.5 1261.6,1092.8 1263.9,1087.1 1266.2,1081.4 1268.5,1075.5 1270.8,1069.6 1273.2,1063.6 1275.7,1057.6 1278.1,1051.4 1280.7,1045.2 1283.2,1038.9 1285.8,1032.5 1288.4,1026.0 1291.1,1019.4 1293.8,1012.8 1296.6,1006.0 1299.4,999.2 1302.3,992.2 1305.2,985.1 1308.2,977.9 1311.2,970.7 1314.3,963.3 1317.5,955.7 1320.7,948.1 1323.9,940.3 1327.3,932.4 1330.7,924.4 1334.2,916.2 1337.7,907.9 1341.3,899.4 1345.0,890.8 1348.8,882.0 1352.7,873.1 1356.6,863.9 1360.7,854.6 1364.8,845.1 1369.1,835.4 1373.4,825.6 1377.9,815.4 1382.4,805.1 1387.1,794.6 1392.0,783.7 1396.9,772.7 1402.0,761.4 1407.2,749.8 1412.6,737.9 1418.2,725.7 1423.9,713.1 1429.8,700.2 1435.9,687.0 1442.2,673.4 1448.7,659.3 1455.4,644.9 1462.4,630.0 1469.6,614.5 1477.2,598.6 1485.0,582.1 1493.1,565.0 1501.6,547.3 1510.5,528.9 1519.8,509.7 1529.5,489.7 1539.8,468.8 1550.5,446.9 1561.9,424.0 1573.8,399.9 1586.6,374.5 1600.1,347.6 1614.5,319.1 1630.0,288.8 1646.7,256.3 1664.7,221.5 1684.3,183.9 1705.8,143.0 1729.6,98.2" fill="none" stroke="#0000ff" stroke-width="0.8" stroke-linejoin="round" opacity="0.4" stroke-dasharray="2,1.2"/>
<polyline points="1286.1,1203.3 1287.8,1198.8 1289.5,1194.3 1291.3,1189.7 1293.1,1185.1 1294.9,1180.4 1294.9,1180.4 1296.7,1175.7 1298.5,1170.9 1300.4,1166.1 1302.3,1161.2 1304.2,1156.3 1306.1,1151.3 1308.1,1146.3 1310.1,1141.2 1312.1,1136.1 1314.1,1130.9 1316.2,1125.6 1318.3,1120.3 1320.4,1115.0 1322.6,1109.5 1324.8,1104.0 1327.0,1098.5 1329.3,1092.8 1331.6,1087.1 1333.9,1081.4 1336.2,1075.5 1338.6,1069.6 1341.1,1063.6 1343.5,1057.6 1346.1,1051.4 1348.6,1045.2 1351.2,1038.9 1353.8,1032.5 1356.5,1026.0 1359.2,1019.4 1362.0,1012.8 1364.8,1006.0 1367.7,999.2 1370.6,992.2 1373.6,985.1 1376.6,977.9 1379.7,970.7 1382.8,963.3 1386.0,955.7 1389.3,948.1 1392.6,940.3 1396.0,932.4 1399.5,924.4 1403.0,916.2 1406.6,907.9 1410.3,899.4 1414.1,890.8 1417.9,882.0 1421.9,873.1 1425.9,863.9 1430.0,854.6 1434.2,845.1 1438.5,835.4 1443.0,825.6 1447.5,815.4 1452.2,805.1 1457.0,794.6 1461.9,783.7 1466.9,772.7 1472.1,761.4 1477.4,749.8 1482.9,737.9 1488.6,725.7 1494.4,713.1 1500.4,700.2 1506.7,687.0 1513.1,673.4 1519.7,659.3 1526.6,644.9 1533.7,630.0 1541.1,614.5 1548.8,598.6 1556.8,582.1 1565.2,565.0 1573.9,547.3 1582.9,528.9 1592.5,509.7 1602.4,489.7 1612.9,468.8 1623.9,446.9 1635.5,424.0 1647.8,399.9 1660.9,374.5 1674.8,347.6 1689.6,319.1 1705.5,288.8 1722.7,256.3 1741.2,221.5 1761.4,183.9 1783.6,143.0 1808.1,98.2" fill="none" stroke="#0000ff" stroke-width="0.8" stroke-linejoin="round" opacity="0.4" stroke-dasharray="2,1.2"/>
<polyline points="236.8,940.3 222.7,958.5 209.1,976.0 196.1,992.9 183.5,1009.2 171.3,1025.0 159.6,1040.2 148.2,1055.0 137.2,1069.3 126.5,1083.2 116.2,1096.7 106.1,1109.8 96.3,1122.6 86.8,1135.0 77.6,1147.1 68.6,1158.9 59.8,1170.4 51.3,1181.7 42.9,1192.6 34.8,1203.3" fill="none" stroke="#008000" stroke-width="0.9" stroke-linejoin="round" opacity="0.5" stroke-dasharray="3,2.2"/>
<polyline points="369.4,940.3 355.8,958.5 342.8,976.0 330.2,992.9 318.1,1009.2 306.4,1025.0 295.0,1040.2 284.1,1055.0 273.5,1069.3 263.3,1083.2 253.3,1096.7 243.7,1109.8 234.3,1122.6 225.1,1135.0 216.3,1147.1 207.6,1158.9 199.2,1170.4 191.0,1181.7 183.0,1192.6 175.1,1203.3" fill="none" stroke="#008000" stroke-width="0.9" stroke-linejoin="round" opacity="0.5" stroke-dasharray="3,2.2"/>
<polyline points="478.2,940.3 465.0,958.5 452.4,976.0 440.2,992.9 428.5,1009.2 417.2,1025.0 406.3,1040.2 395.7,1055.0 385.5,1069.3 375.6,1083.2 365.9,1096.7 356.6,1109.8 347.6,1122.6 338.8,1135.0 330.2,1147.1 321.8,1158.9 313.7,1170.4 305.8,1181.7 298.1,1192.6 290.5,1203.3" fill="none" stroke="#008000" stroke-width="0.9" stroke-linejoin="round" opacity="0.5" stroke-dasharray="3,2.2"/>
<polyline points="595.0,940.3 582.3,958.5 570.1,976.0 558.4,992.9 547.1,1009.2 536.3,1025.0 525.8,1040.2 515.6,1055.0 505.8,1069.3 496.3,1083.2 487.0,1096.7 478.1,1109.8 469.4,1122.6 460.9,1135.0 452.7,1147.1 444.7,1158.9 436.9,1170.4 429.3,1181.7 421.9,1192.6 414.7,1203.3" fill="none" stroke="#008000" stroke-width="0.9" stroke-linejoin="round" opacity="0.5" stroke-dasharray="3,2.2"/>
<polyline points="695.5,940.3 683.3,958.5 671.5,976.0 660.2,992.9 649.4,1009.2 638.9,1025.0 628.7,1040.2 618.9,1055.0 609.5,1069.3 600.3,1083.2 591.4,1096.7 582.8,1109.8 574.4,1122.6 566.3,1135.0 558.4,1147.1 550.7,1158.9 543.2,1170.4 535.9,1181.7 528.8,1192.6 521.9,1203.3" fill="none" stroke="#008000" stroke-width="0.9" stroke-linejoin="round" opacity="0.5" stroke-dasharray="3,2.2"/>
<polyline points="762.6,940.3 750.7,958.5 739.2,976.0 728.2,992.9 717.6,1009.2 707.4,1025.0 697.5,1040.2 688.0,1055.0 678.8,1069.3 669.9,1083.2 661.2,1096.7 652.8,1109.8 644.7,1122.6 636.8,1135.0 629.1,1147.1 621.6,1158.9 614.3,1170.4 607.2,1181.7 600.3,1192.6 593.5,1203.3" fill="none" stroke="#008000" stroke-width="0.9" stroke-linejoin="round" opacity="0.5" stroke-dasharray="3,2.2"/>
<polyline points="854.8,940.3 843.2,958.5 832.2,976.0 821.6,992.9 811.3,1009.2 801.5,1025.0 792.0,1040.2 782.8,1055.0 773.9,1069.3 765.4,1083.2 757.0,1096.7 749.0,1109.8 741.1,1122.6 733.5,1135.0 726.1,1147.1 718.9,1158.9 712.0,1170.4 705.1,1181.7 698.5,1192.6 692.0,1203.3" fill="none" stroke="#008000" stroke-width="0.9" stroke-linejoin="round" opacity="0.5" stroke-dasharray="3,2.2"/>
<polyline points="937.4,940.3 926.3,958.5 915.6,976.0 905.4,992.9 895.5,1009.2 886.0,1025.0 876.9,1040.2 868.0,1055.0 859.4,1069.3 851.2,1083.2 843.2,1096.7 835.4,1109.8 827.8,1122.6 820.5,1135.0 813.4,1147.1 806.5,1158.9 799.8,1170.4 793.2,1181.7 786.8,1192.6 780.6,1203.3" fill="none" stroke="#008000" stroke-width="0.9" stroke-linejoin="round" opacity="0.5" stroke-dasharray="3,2.2"/>
<polyline points="997.8,940.3 987.0,958.5 976.6,976.0 966.6,992.9 957.0,1009.2 947.7,1025.0 938.8,1040.2 930.2,1055.0 921.9,1069.3 913.8,1083.2 906.1,1096.7 898.5,1109.8 891.2,1122.6 884.1,1135.0 877.2,1147.1 870.5,1158.9 863.9,1170.4 857.6,1181.7 851.4,1192.6 845.3,1203.3" fill="none" stroke="#008000" stroke-width="0.9" stroke-linejoin="round" opacity="0.5" stroke-dasharray="3,2.2"/>
<line x1="31.5" y1="424.0" x2="1301.1" y2="424.0" stroke="#a0a0a0" stroke-width="1.1" />
<line x1="31.5" y1="614.5" x2="1301.1" y2="614.5" stroke="#a0a0a0" stroke-width="1.1" />
<line x1="31.5" y1="749.8" x2="1301.1" y2="749.8" stroke="#a0a0a0" stroke-width="1.1" />
<line x1="31.5" y1="854.6" x2="1301.1" y2="854.6" stroke="#a0a0a0" stroke-width="1.1" />
<line x1="31.5" y1="940.3" x2="1301.1" y2="940.3" stroke="#a0a0a0" stroke-width="1.1" />
<line x1="31.5" y1="1012.8" x2="1301.1" y2="1012.8" stroke="#a0a0a0" stroke-width="1.1" />
<line x1="31.5" y1="1075.5" x2="1301.1" y2="1075.5" stroke="#a0a0a0" stroke-width="1.1" />
<line x1="31.5" y1="1130.9" x2="1301.1" y2="1130.9" stroke="#a0a0a0" stroke-width="1.1" />
<line x1="31.5" y1="1180.4" x2="1301.1" y2="1180.4" stroke="#a0a0a0" stroke-width="1.1" />
<line x1="397.4" y1="1203.3" x2="1581.0" y2="98.2" stroke="#6a6ad6" stroke-width="2.2" stroke-dasharray="9,4" opacity="0.9"/>
<line x1="128.8" y1="1203.3" x2="1312.4" y2="98.2" stroke="#6a6ad6" stroke-width="2.2" stroke-dasharray="9,4" opacity="0.9"/>
</g>
<g clip-path="url(#cs)">
<line x1="196.0" y1="653.0" x2="196.0" y2="844.5" stroke="#5aaa5a" stroke-width="4" opacity="0.75"/>
<line x1="234.0" y1="863.0" x2="234.0" y2="983.0" stroke="#d08a8a" stroke-width="4" opacity="0.6"/>
<line x1="271.8" y1="1009.6" x2="271.8" y2="1162.6" stroke="#add8e6" stroke-width="4" opacity="0.6"/>
<line x1="1122.5" y1="199.0" x2="1122.5" y2="1161.0" stroke="#aaa" stroke-width="1.6" stroke-dasharray="2,3"/>
<line x1="1046.7" y1="1117.0" x2="1046.7" y2="1161.0" stroke="#777" stroke-width="1.6" stroke-dasharray="2,3"/>
<polyline points="577.8,863.6 590.0,885.0 605.6,923.3 617.0,970.0 627.8,1026.0 634.0,1060.0 638.9,1095.6 643.0,1160.8" fill="none" stroke="#800080" stroke-width="1.2" stroke-linejoin="round" stroke-dasharray="3,2" opacity="0.8"/>
<polyline points="398.6,98.2 404.8,113.2 411.1,128.2 417.7,143.2 424.4,158.2 431.4,173.2 438.5,188.2 446.0,203.2 453.7,218.2 461.7,233.2 469.9,248.2 478.3,263.2 486.9,278.3 495.7,293.3 504.6,308.3 513.7,323.3 523.0,338.3 532.4,353.3 542.0,368.3 551.7,383.3 561.4,398.3 571.3,413.3 581.2,428.3 591.0,443.3 600.5,458.3 610.0,473.3 619.4,488.3 628.7,503.3 637.9,518.3 646.9,533.3 655.6,548.3 664.1,563.3 672.9,578.3 681.4,593.3 689.6,608.3 697.5,623.4 705.0,638.4 712.1,653.4 718.6,668.4 724.0,683.4 729.1,698.4 733.8,713.4 738.1,728.4 742.1,743.4 745.7,758.4 748.9,773.4 751.8,788.4 754.8,803.4 759.2,818.4 763.4,833.4 767.3,848.4 770.9,863.4 774.3,878.4 777.5,893.4 780.5,908.4 783.3,923.4 785.9,938.4 788.4,953.4 789.8,968.5 790.8,983.5 791.6,998.5 792.3,1013.5 792.9,1028.5 793.4,1043.5 793.8,1058.5 794.1,1073.5 794.3,1088.5 794.4,1103.5 795.0,1118.5 807.5,1133.5 838.9,1159.4" fill="none" stroke="#bdbdbd" stroke-width="4" stroke-linejoin="round" stroke-dasharray="14,8"/>
<polyline points="420.2,98.2 426.8,113.2 433.7,128.2 440.7,143.2 448.0,158.2 455.5,173.2 463.2,188.2 470.9,203.2 478.5,218.2 486.4,233.2 494.4,248.2 502.6,263.2 511.0,278.3 519.6,293.3 528.3,308.3 537.2,323.3 546.3,338.3 555.5,353.3 564.8,368.3 574.1,383.3 583.6,398.3 593.1,413.3 602.6,428.3 612.1,443.3 621.9,458.3 631.5,473.3 641.1,488.3 650.4,503.3 659.6,518.3 668.6,533.3 677.3,548.3 685.8,563.3 694.0,578.3 701.9,593.3 709.5,608.3 716.7,623.4 723.6,638.4 730.2,653.4 736.7,668.4 742.9,683.4 748.8,698.4 754.2,713.4 759.4,728.4 764.2,743.4 768.7,758.4 773.0,773.4 776.9,788.4 780.6,803.4 784.1,818.4 787.4,833.4 790.4,848.4 793.2,863.4 795.8,878.4 797.8,893.4 799.0,908.4 800.0,923.4 800.9,938.4 801.6,953.4 802.1,968.5 802.6,983.5 802.9,998.5 803.0,1013.5 803.1,1028.5 803.1,1043.5 802.9,1058.5 803.1,1073.5 803.8,1088.5 804.5,1103.5 805.1,1118.5 805.6,1133.5 838.9,1159.4" fill="none" stroke="#999999" stroke-width="4" stroke-linejoin="round" stroke-dasharray="14,8"/>
<polyline points="409.8,98.2 416.2,113.2 422.9,128.2 429.7,143.2 436.8,158.2 444.0,173.2 451.5,188.2 459.3,203.2 467.4,218.2 475.7,233.2 484.2,248.2 493.0,263.2 501.9,278.3 511.0,293.3 520.3,308.3 529.7,323.3 539.3,338.3 549.0,353.3 558.9,368.3 568.8,383.3 578.9,398.3 588.9,413.3 599.1,428.3 609.2,443.3 618.8,458.3 627.9,473.3 636.9,488.3 645.7,503.3 654.4,518.3 662.9,533.3 671.2,548.3 679.2,563.3 686.8,578.3 694.1,593.3 701.1,608.3 707.8,623.4 714.1,638.4 720.0,653.4 725.9,668.4 731.3,683.4 736.4,698.4 741.2,713.4 745.6,728.4 749.6,743.4 753.2,758.4 756.3,773.4 759.2,788.4 762.3,803.4 766.8,818.4 771.0,833.4 775.0,848.4 778.6,863.4 781.6,878.4 784.3,893.4 786.9,908.4 789.2,923.4 791.4,938.4 793.5,953.4 795.4,968.5 797.1,983.5 798.9,998.5 800.5,1013.5 802.1,1028.5 803.5,1043.5 804.8,1058.5 805.9,1073.5 806.6,1088.5 807.2,1103.5 807.8,1118.5 808.3,1133.5 838.9,1159.4" fill="none" stroke="#ff0000" stroke-width="5.8" stroke-linejoin="round" stroke-dasharray="16,7" stroke-linejoin="miter"/>
<polyline points="655.6,867.8 688.9,901.1 698.6,920.6 760.0,985.0 771.3,994.9 718.9,1002.2 740.0,1020.0 755.0,1040.0 766.7,1062.2 776.0,1090.0 786.1,1112.2 800.0,1127.5 838.9,1159.4" fill="none" stroke="#a04848" stroke-width="6" stroke-linejoin="round" stroke-dasharray="5,7" opacity="0.95"/>
<polyline points="529.2,534.9 558.6,614.3 565.7,640.0 574.0,673.1 571.5,714.0 585.1,747.5 597.5,766.0 576.5,776.0 577.7,800.0 575.0,790.0 590.3,853.9 577.8,863.6 598.6,869.2 613.9,895.6 597.2,900.6 622.2,920.6 647.2,990.0 694.4,1009.4 719.4,1038.6 736.1,1102.5 747.2,1113.6 752.8,1144.2 761.1,1160.8" fill="none" stroke="#86b6f5" stroke-width="3" stroke-linejoin="round" />
<polyline points="567.8,98.2 425.2,196.6 397.9,252.4 391.7,288.4 354.5,367.7 395.5,421.0 470.5,527.0 486.3,614.3 507.0,674.3 361.5,715.0 429.2,744.0 517.1,766.2 266.2,775.7 200.6,784.2 421.8,829.7 376.3,854.1 267.3,863.2 469.5,868.9 483.2,895.4 353.0,900.2 497.0,919.7 517.1,991.7 577.8,995.6 644.4,995.6 694.4,1012.2 716.7,1038.6 727.8,1103.9 747.2,1115.0 741.7,1158.0 750.0,1162.2" fill="none" stroke="#6495ed" stroke-width="8" stroke-linejoin="round" />
<polyline points="674.4,98.2 478.5,196.6 471.1,231.3 458.7,288.4 448.8,367.7 476.0,422.3 538.7,544.4 567.3,612.7 585.1,663.2 603.7,712.7 618.6,743.7 619.9,757.4 624.8,767.3 632.3,784.7 634.7,828.9 658.3,853.9 655.6,867.8 688.9,901.1 698.6,920.6 758.3,988.6 755.6,995.6 698.6,997.0 730.6,1040.0 752.8,1105.3 748.6,1113.6 772.2,1142.8 797.2,1162.2" fill="none" stroke="#ff0000" stroke-width="8" stroke-linejoin="round" />
</g>
<rect x="31.5" y="98.2" width="1269.6" height="1105.1" fill="none" stroke="#000" stroke-width="1.6"/>
<line x1="31.5" y1="424.0" x2="36.5" y2="424.0" stroke="#000" stroke-width="1.6" />
<text x="41.2" y="430.3" font-size="17.88" font-weight="bold" fill="#000" textLength="36.2" lengthAdjust="spacingAndGlyphs" >200</text>
<line x1="31.5" y1="614.5" x2="36.5" y2="614.5" stroke="#000" stroke-width="1.6" />
<text x="41.2" y="620.9" font-size="17.88" font-weight="bold" fill="#000" textLength="36.2" lengthAdjust="spacingAndGlyphs" >300</text>
<line x1="31.5" y1="749.8" x2="36.5" y2="749.8" stroke="#000" stroke-width="1.6" />
<text x="41.2" y="756.1" font-size="17.88" font-weight="bold" fill="#000" textLength="36.2" lengthAdjust="spacingAndGlyphs" >400</text>
<line x1="31.5" y1="854.6" x2="36.5" y2="854.6" stroke="#000" stroke-width="1.6" />
<text x="41.2" y="861.0" font-size="17.88" font-weight="bold" fill="#000" textLength="36.2" lengthAdjust="spacingAndGlyphs" >500</text>
<line x1="31.5" y1="940.3" x2="36.5" y2="940.3" stroke="#000" stroke-width="1.6" />
<text x="41.2" y="946.7" font-size="17.88" font-weight="bold" fill="#000" textLength="36.2" lengthAdjust="spacingAndGlyphs" >600</text>
<line x1="31.5" y1="1012.8" x2="36.5" y2="1012.8" stroke="#000" stroke-width="1.6" />
<text x="41.2" y="1019.1" font-size="17.88" font-weight="bold" fill="#000" textLength="36.2" lengthAdjust="spacingAndGlyphs" >700</text>
<line x1="31.5" y1="1075.5" x2="36.5" y2="1075.5" stroke="#000" stroke-width="1.6" />
<text x="41.2" y="1081.9" font-size="17.88" font-weight="bold" fill="#000" textLength="36.2" lengthAdjust="spacingAndGlyphs" >800</text>
<line x1="31.5" y1="1130.9" x2="36.5" y2="1130.9" stroke="#000" stroke-width="1.6" />
<text x="41.2" y="1137.2" font-size="17.88" font-weight="bold" fill="#000" textLength="36.2" lengthAdjust="spacingAndGlyphs" >900</text>
<line x1="31.5" y1="1180.4" x2="36.5" y2="1180.4" stroke="#000" stroke-width="1.6" />
<text x="41.2" y="1186.7" font-size="17.88" font-weight="bold" fill="#000" textLength="48.3" lengthAdjust="spacingAndGlyphs" >1000</text>
<line x1="128.8" y1="1203.3" x2="128.8" y2="1198.3" stroke="#000" stroke-width="1.6" />
<text x="109.4" y="1200.6" font-size="17.88" font-weight="bold" fill="#000" textLength="38.7" lengthAdjust="spacingAndGlyphs" >−20</text>
<line x1="263.1" y1="1203.3" x2="263.1" y2="1198.3" stroke="#000" stroke-width="1.6" />
<text x="243.7" y="1200.6" font-size="17.88" font-weight="bold" fill="#000" textLength="38.7" lengthAdjust="spacingAndGlyphs" >−10</text>
<line x1="397.4" y1="1203.3" x2="397.4" y2="1198.3" stroke="#000" stroke-width="1.6" />
<text x="391.4" y="1200.6" font-size="17.88" font-weight="bold" fill="#000" textLength="12.1" lengthAdjust="spacingAndGlyphs" >0</text>
<line x1="531.7" y1="1203.3" x2="531.7" y2="1198.3" stroke="#000" stroke-width="1.6" />
<text x="519.6" y="1200.6" font-size="17.88" font-weight="bold" fill="#000" textLength="24.2" lengthAdjust="spacingAndGlyphs" >10</text>
<line x1="666.0" y1="1203.3" x2="666.0" y2="1198.3" stroke="#000" stroke-width="1.6" />
<text x="653.9" y="1200.6" font-size="17.88" font-weight="bold" fill="#000" textLength="24.2" lengthAdjust="spacingAndGlyphs" >20</text>
<line x1="800.3" y1="1203.3" x2="800.3" y2="1198.3" stroke="#000" stroke-width="1.6" />
<text x="788.2" y="1200.6" font-size="17.88" font-weight="bold" fill="#000" textLength="24.2" lengthAdjust="spacingAndGlyphs" >30</text>
<line x1="934.6" y1="1203.3" x2="934.6" y2="1198.3" stroke="#000" stroke-width="1.6" />
<text x="922.5" y="1200.6" font-size="17.88" font-weight="bold" fill="#000" textLength="24.2" lengthAdjust="spacingAndGlyphs" >40</text>
<line x1="1068.9" y1="1203.3" x2="1068.9" y2="1198.3" stroke="#000" stroke-width="1.6" />
<text x="1056.8" y="1200.6" font-size="17.88" font-weight="bold" fill="#000" textLength="24.2" lengthAdjust="spacingAndGlyphs" >50</text>
<line x1="1203.2" y1="1203.3" x2="1203.2" y2="1198.3" stroke="#000" stroke-width="1.6" />
<text x="1191.1" y="1200.6" font-size="17.88" font-weight="bold" fill="#000" textLength="24.2" lengthAdjust="spacingAndGlyphs" >60</text>
<text x="92.5" y="340.3" font-size="15.02" font-weight="bold" fill="#555" textLength="45.2" lengthAdjust="spacingAndGlyphs" >13km</text>
<text x="92.5" y="624.3" font-size="15.02" font-weight="bold" fill="#555" textLength="35.0" lengthAdjust="spacingAndGlyphs" >9km</text>
<text x="92.5" y="756.3" font-size="15.02" font-weight="bold" fill="#555" textLength="35.0" lengthAdjust="spacingAndGlyphs" >7km</text>
<text x="92.5" y="878.3" font-size="15.02" font-weight="bold" fill="#555" textLength="35.0" lengthAdjust="spacingAndGlyphs" >5km</text>
<text x="92.5" y="997.5" font-size="15.02" font-weight="bold" fill="#555" textLength="35.0" lengthAdjust="spacingAndGlyphs" >3km</text>
<text x="92.5" y="1107.8" font-size="15.02" font-weight="bold" fill="#555" textLength="35.0" lengthAdjust="spacingAndGlyphs" >1km</text>
<text x="92.5" y="1162.4" font-size="15.74" font-weight="bold" fill="#555" textLength="117.8" lengthAdjust="spacingAndGlyphs" >-SFC (362m) -</text>
<text x="175.3" y="643.8" font-size="17.88" font-weight="bold" fill="#55a855" textLength="41.4" lengthAdjust="spacingAndGlyphs" >HGZ</text>
<text x="215.8" y="857.3" font-size="16.48" font-weight="bold" fill="#c06464" textLength="28.3" lengthAdjust="spacingAndGlyphs" >8.4</text>
<text x="258.3" y="1006.3" font-size="16.48" font-weight="bold" fill="#c5e2ea" textLength="27.1" lengthAdjust="spacingAndGlyphs" >EIL</text>
<text x="307.5" y="417.1" font-size="18.60" font-weight="normal" fill="#3a9a3a" textLength="40.1" lengthAdjust="spacingAndGlyphs" >46%</text>
<path d="M354.5,412.3 L366.4,412.3 M363.8,408.7 Q365.6,411.6 367.4,412.3 Q365.6,413.0 363.8,415.9" fill="none" stroke="#3a9a3a" stroke-width="1.35" stroke-linecap="round"/>
<text x="403.5" y="626.6" font-size="18.60" font-weight="normal" fill="#3a9a3a" textLength="40.1" lengthAdjust="spacingAndGlyphs" >54%</text>
<path d="M450.5,621.8 L462.4,621.8 M459.8,618.2 Q461.6,621.1 463.4,621.8 Q461.6,622.5 459.8,625.4" fill="none" stroke="#3a9a3a" stroke-width="1.35" stroke-linecap="round"/>
<text x="302.8" y="819.6" font-size="18.60" font-weight="normal" fill="#3a9a3a" textLength="40.1" lengthAdjust="spacingAndGlyphs" >20%</text>
<path d="M349.8,814.8 L361.7,814.8 M359.1,811.2 Q360.9,814.1 362.7,814.8 Q360.9,815.5 359.1,818.4" fill="none" stroke="#3a9a3a" stroke-width="1.35" stroke-linecap="round"/>
<text x="500.0" y="996.6" font-size="18.60" font-weight="normal" fill="#3a9a3a" textLength="40.1" lengthAdjust="spacingAndGlyphs" >42%</text>
<path d="M547.0,991.8 L558.9,991.8 M556.3,988.2 Q558.1,991.1 559.9,991.8 Q558.1,992.5 556.3,995.4" fill="none" stroke="#3a9a3a" stroke-width="1.35" stroke-linecap="round"/>
<text x="650.0" y="1107.6" font-size="18.60" font-weight="normal" fill="#3a9a3a" textLength="40.1" lengthAdjust="spacingAndGlyphs" >93%</text>
<path d="M697.0,1102.8 L708.9,1102.8 M706.3,1099.2 Q708.1,1102.1 709.9,1102.8 Q708.1,1103.5 706.3,1106.4" fill="none" stroke="#3a9a3a" stroke-width="1.35" stroke-linecap="round"/>
<path d="M523.5,194.8 L511.6,194.8 M514.2,191.2 Q512.4,194.1 510.6,194.8 Q512.4,195.5 514.2,198.4" fill="none" stroke="#ee4a4a" stroke-width="1.35" stroke-linecap="round"/>
<text x="524.6" y="199.6" font-size="18.60" font-weight="normal" fill="#ee4a4a" textLength="79.3" lengthAdjust="spacingAndGlyphs" >4315J/kg</text>
<path d="M870.5,815.4 L858.6,815.4 M861.2,811.8 Q859.4,814.7 857.6,815.4 Q859.4,816.1 861.2,819.0" fill="none" stroke="#ee4a4a" stroke-width="1.35" stroke-linecap="round"/>
<text x="871.6" y="820.2" font-size="18.60" font-weight="normal" fill="#ee4a4a" textLength="79.3" lengthAdjust="spacingAndGlyphs" >1029J/kg</text>
<path d="M899.5,992.2 L887.6,992.2 M890.2,988.6 Q888.4,991.5 886.6,992.2 Q888.4,992.9 890.2,995.8" fill="none" stroke="#ee4a4a" stroke-width="1.35" stroke-linecap="round"/>
<text x="900.6" y="997.0" font-size="18.60" font-weight="normal" fill="#ee4a4a" textLength="67.8" lengthAdjust="spacingAndGlyphs" >241J/kg</text>
<path d="M1015.9,911.8 L1005.5,911.8 M1007.7,908.6 Q1006.1,911.2 1004.5,911.8 Q1006.1,912.4 1007.7,915.0" fill="none" stroke="#98b8ee" stroke-width="1.50" stroke-linecap="round"/>
<text x="1016.9" y="916.0" font-size="16.48" font-weight="bold" fill="#98b8ee" textLength="34.9" lengthAdjust="spacingAndGlyphs" >FRZ</text>
<path d="M1015.9,969.8 L1005.5,969.8 M1007.7,966.6 Q1006.1,969.2 1004.5,969.8 Q1006.1,970.4 1007.7,973.0" fill="none" stroke="#98b8ee" stroke-width="1.50" stroke-linecap="round"/>
<text x="1016.9" y="974.0" font-size="16.48" font-weight="bold" fill="#98b8ee" textLength="41.0" lengthAdjust="spacingAndGlyphs" >WB0</text>
<path d="M1032.4,1111.1 L1023.8,1111.1 M1025.5,1108.5 Q1024.1,1110.6 1022.8,1111.1 Q1024.1,1111.7 1025.5,1113.8" fill="none" stroke="#888" stroke-width="1.26" stroke-linecap="round"/>
<text x="1033.2" y="1114.7" font-size="13.80" font-weight="bold" fill="#888" textLength="28.6" lengthAdjust="spacingAndGlyphs" >PBL</text>
<path d="M1088.2,192.9 L1074.6,192.9 M1077.7,188.9 Q1075.6,192.1 1073.6,192.9 Q1075.6,193.7 1077.7,197.0" fill="none" stroke="#888" stroke-width="1.90" stroke-linecap="round"/>
<text x="1089.4" y="198.3" font-size="20.91" font-weight="bold" fill="#888" textLength="63.5" lengthAdjust="spacingAndGlyphs" >MUEL</text>
<path d="M1089.0,1126.6 L1075.4,1126.6 M1078.5,1122.6 Q1076.4,1125.8 1074.4,1126.6 Q1076.4,1127.4 1078.5,1130.7" fill="none" stroke="#888" stroke-width="1.90" stroke-linecap="round"/>
<text x="1090.2" y="1132.0" font-size="20.91" font-weight="bold" fill="#888" textLength="78.4" lengthAdjust="spacingAndGlyphs" opacity="0.95">MULFC</text>
<path d="M1089.0,1133.2 L1075.4,1133.2 M1078.5,1129.2 Q1076.4,1132.4 1074.4,1133.2 Q1076.4,1134.0 1078.5,1137.3" fill="none" stroke="#888" stroke-width="1.90" stroke-linecap="round"/>
<text x="1090.2" y="1138.6" font-size="20.91" font-weight="bold" fill="#888" textLength="70.9" lengthAdjust="spacingAndGlyphs" opacity="0.95">SBLCL</text>
<text x="707.0" y="1177.0" font-size="16.45" font-weight="bold" fill="#98b8ee" textLength="41.1" lengthAdjust="spacingAndGlyphs" >73°F</text>
<text x="797.0" y="1183.0" font-size="16.45" font-weight="bold" fill="#f05050" textLength="41.1" lengthAdjust="spacingAndGlyphs" >79°F</text>
<rect x="38" y="104.5" width="178" height="192.5" rx="3" fill="#fff" fill-opacity="0.8" stroke="#d8d8d8" stroke-width="1.2"/>
<line x1="42.0" y1="116.7" x2="73.0" y2="116.7" stroke="#86b6f5" stroke-width="3" />
<text x="81.8" y="121.8" font-size="14.31" font-weight="normal" fill="#222" textLength="110.0" lengthAdjust="spacingAndGlyphs" >WETBULB TEMP</text>
<line x1="43.0" y1="137.7" x2="71.0" y2="137.7" stroke="#a85050" stroke-width="6" stroke-dasharray="6,5"/>
<text x="81.8" y="142.7" font-size="14.31" font-weight="normal" fill="#222" textLength="100.2" lengthAdjust="spacingAndGlyphs" >VIRTUAL TEMP</text>
<line x1="40.0" y1="158.6" x2="75.0" y2="158.6" stroke="#6495ed" stroke-width="7" />
<text x="81.8" y="163.7" font-size="14.31" font-weight="normal" fill="#222" textLength="75.5" lengthAdjust="spacingAndGlyphs" >DEWPOINT</text>
<line x1="40.0" y1="179.6" x2="75.0" y2="179.6" stroke="#ff0000" stroke-width="7" />
<text x="81.8" y="184.6" font-size="14.31" font-weight="normal" fill="#222" textLength="101.0" lengthAdjust="spacingAndGlyphs" >TEMPERATURE</text>
<line x1="43.0" y1="200.5" x2="71.0" y2="200.5" stroke="#ff0000" stroke-width="4.5" stroke-dasharray="15,7"/>
<text x="81.8" y="205.6" font-size="14.31" font-weight="normal" fill="#222" textLength="123.9" lengthAdjust="spacingAndGlyphs" >MUECAPE PARCEL</text>
<line x1="43.0" y1="221.5" x2="70.0" y2="221.5" stroke="#c0c0c0" stroke-width="3.5" stroke-dasharray="10,5"/>
<text x="81.8" y="226.6" font-size="14.31" font-weight="normal" fill="#222" textLength="111.0" lengthAdjust="spacingAndGlyphs" >SBCAPE PARCEL</text>
<line x1="43.0" y1="242.5" x2="70.0" y2="242.5" stroke="#bbbbbb" stroke-width="3.5" stroke-dasharray="10,5"/>
<text x="81.8" y="247.5" font-size="14.31" font-weight="normal" fill="#222" textLength="112.7" lengthAdjust="spacingAndGlyphs" >MLCAPE PARCEL</text>
<line x1="43.0" y1="263.4" x2="70.0" y2="263.4" stroke="#bbbbbb" stroke-width="3.5" stroke-dasharray="10,5"/>
<text x="81.8" y="268.5" font-size="14.31" font-weight="normal" fill="#222" textLength="115.1" lengthAdjust="spacingAndGlyphs" >MUCAPE PARCEL</text>
<line x1="43.0" y1="284.4" x2="72.0" y2="284.4" stroke="#800080" stroke-width="1" stroke-dasharray="2.5,1.5"/>
<text x="81.8" y="289.4" font-size="14.31" font-weight="normal" fill="#222" textLength="128.0" lengthAdjust="spacingAndGlyphs" >DWNDRFT PARCEL</text>
<line x1="1244.3" y1="153.6" x2="1244.3" y2="1203.3" stroke="#333" stroke-width="1.0" />
<g clip-path="url(#cw)">
<circle cx="1244.3" cy="198.8" r="3.2" fill="#000"/>
<polyline points="1244.3,198.8 1207.0,224.0" fill="none" stroke="#000" stroke-width="2"/>
<polygon points="1207.0,224.0 1199.7,207.2 1216.3,217.7" fill="#000" stroke="#000" stroke-width="1.2" stroke-linejoin="miter"/>
<line x1="1221.0" y1="214.5" x2="1206.3" y2="202.8" stroke="#000" stroke-width="1.9" />
<circle cx="1244.3" cy="252.5" r="3.2" fill="#000"/>
<polyline points="1244.3,252.5 1201.5,266.4" fill="none" stroke="#000" stroke-width="2"/>
<polygon points="1201.5,266.4 1199.1,248.3 1212.2,262.9" fill="#000" stroke="#000" stroke-width="1.2" stroke-linejoin="miter"/>
<line x1="1217.6" y1="261.2" x2="1212.1" y2="253.5" stroke="#000" stroke-width="1.9" />
<circle cx="1244.3" cy="288.2" r="3.2" fill="#000"/>
<polyline points="1244.3,288.2 1199.9,295.2" fill="none" stroke="#000" stroke-width="2"/>
<polygon points="1199.9,295.2 1200.4,276.9 1211.0,293.5" fill="#000" stroke="#000" stroke-width="1.2" stroke-linejoin="miter"/>
<line x1="1216.5" y1="292.6" x2="1212.3" y2="284.1" stroke="#000" stroke-width="1.9" />
<circle cx="1244.3" cy="358.0" r="3.2" fill="#000"/>
<polyline points="1244.3,358.0 1199.4,361.6" fill="none" stroke="#000" stroke-width="2"/>
<polygon points="1199.4,361.6 1201.4,343.4 1210.7,360.7" fill="#000" stroke="#000" stroke-width="1.2" stroke-linejoin="miter"/>
<line x1="1216.3" y1="360.3" x2="1209.2" y2="342.8" stroke="#000" stroke-width="1.9" />
<circle cx="1244.3" cy="368.5" r="3.2" fill="#000"/>
<polyline points="1244.3,368.5 1199.4,371.5" fill="none" stroke="#000" stroke-width="2"/>
<polygon points="1199.4,371.5 1201.6,353.3 1210.6,370.8" fill="#000" stroke="#000" stroke-width="1.2" stroke-linejoin="miter"/>
<line x1="1216.2" y1="370.4" x2="1209.4" y2="352.8" stroke="#000" stroke-width="1.9" />
<circle cx="1244.3" cy="423.2" r="3.2" fill="#000"/>
<polyline points="1244.3,423.2 1199.3,423.2" fill="none" stroke="#000" stroke-width="2"/>
<line x1="1199.3" y1="423.2" x2="1193.7" y2="405.2" stroke="#000" stroke-width="1.9" />
<line x1="1204.9" y1="423.2" x2="1199.3" y2="405.2" stroke="#000" stroke-width="1.9" />
<line x1="1210.5" y1="423.2" x2="1204.9" y2="405.2" stroke="#000" stroke-width="1.9" />
<line x1="1216.2" y1="423.2" x2="1210.5" y2="405.2" stroke="#000" stroke-width="1.9" />
<line x1="1221.8" y1="423.2" x2="1219.0" y2="414.2" stroke="#000" stroke-width="1.9" />
<circle cx="1244.3" cy="471.1" r="3.2" fill="#000"/>
<polyline points="1244.3,471.1 1199.5,475.2" fill="none" stroke="#000" stroke-width="2"/>
<line x1="1199.5" y1="475.2" x2="1192.2" y2="457.8" stroke="#000" stroke-width="1.9" />
<line x1="1205.1" y1="474.7" x2="1197.8" y2="457.3" stroke="#000" stroke-width="1.9" />
<line x1="1210.7" y1="474.2" x2="1203.4" y2="456.8" stroke="#000" stroke-width="1.9" />
<line x1="1216.3" y1="473.7" x2="1209.0" y2="456.3" stroke="#000" stroke-width="1.9" />
<circle cx="1244.3" cy="528.4" r="3.2" fill="#000"/>
<polyline points="1244.3,528.4 1200.6,539.2" fill="none" stroke="#000" stroke-width="2"/>
<polygon points="1200.6,539.2 1199.6,520.9 1211.5,536.5" fill="#000" stroke="#000" stroke-width="1.2" stroke-linejoin="miter"/>
<circle cx="1244.3" cy="546.8" r="3.2" fill="#000"/>
<polyline points="1244.3,546.8 1200.9,558.8" fill="none" stroke="#000" stroke-width="2"/>
<polygon points="1200.9,558.8 1199.4,540.5 1211.8,555.8" fill="#000" stroke="#000" stroke-width="1.2" stroke-linejoin="miter"/>
<circle cx="1244.3" cy="614.0" r="3.2" fill="#000"/>
<polyline points="1244.3,614.0 1205.1,636.1" fill="none" stroke="#000" stroke-width="2"/>
<polygon points="1205.1,636.1 1199.2,618.7 1214.9,630.6" fill="#000" stroke="#000" stroke-width="1.2" stroke-linejoin="miter"/>
<line x1="1219.8" y1="627.8" x2="1206.1" y2="614.9" stroke="#000" stroke-width="1.9" />
<circle cx="1244.3" cy="639.7" r="3.2" fill="#000"/>
<polyline points="1244.3,639.7 1207.0,664.9" fill="none" stroke="#000" stroke-width="2"/>
<polygon points="1207.0,664.9 1199.7,648.1 1216.3,658.6" fill="#000" stroke="#000" stroke-width="1.2" stroke-linejoin="miter"/>
<line x1="1221.0" y1="655.4" x2="1206.3" y2="643.7" stroke="#000" stroke-width="1.9" />
<line x1="1225.7" y1="652.3" x2="1218.3" y2="646.4" stroke="#000" stroke-width="1.9" />
<circle cx="1244.3" cy="674.4" r="3.2" fill="#000"/>
<polyline points="1244.3,674.4 1208.6,701.8" fill="none" stroke="#000" stroke-width="2"/>
<polygon points="1208.6,701.8 1200.3,685.5 1217.5,694.9" fill="#000" stroke="#000" stroke-width="1.2" stroke-linejoin="miter"/>
<line x1="1222.0" y1="691.5" x2="1206.6" y2="680.7" stroke="#000" stroke-width="1.9" />
<line x1="1226.5" y1="688.1" x2="1211.0" y2="677.2" stroke="#000" stroke-width="1.9" />
<circle cx="1244.3" cy="715.3" r="3.2" fill="#000"/>
<polyline points="1244.3,715.3 1209.8,744.2" fill="none" stroke="#000" stroke-width="2"/>
<polygon points="1209.8,744.2 1200.8,728.2 1218.4,737.0" fill="#000" stroke="#000" stroke-width="1.2" stroke-linejoin="miter"/>
<line x1="1222.7" y1="733.3" x2="1206.9" y2="723.2" stroke="#000" stroke-width="1.9" />
<line x1="1227.0" y1="729.7" x2="1211.2" y2="719.5" stroke="#000" stroke-width="1.9" />
<circle cx="1244.3" cy="749.2" r="3.2" fill="#000"/>
<polyline points="1244.3,749.2 1209.2,777.3" fill="none" stroke="#000" stroke-width="2"/>
<polygon points="1209.2,777.3 1200.6,761.2 1218.0,770.3" fill="#000" stroke="#000" stroke-width="1.2" stroke-linejoin="miter"/>
<line x1="1222.4" y1="766.8" x2="1206.7" y2="756.3" stroke="#000" stroke-width="1.9" />
<line x1="1226.7" y1="763.3" x2="1218.9" y2="758.0" stroke="#000" stroke-width="1.9" />
<circle cx="1244.3" cy="784.4" r="3.2" fill="#000"/>
<polyline points="1244.3,784.4 1210.2,813.8" fill="none" stroke="#000" stroke-width="2"/>
<polygon points="1210.2,813.8 1201.0,798.0 1218.7,806.4" fill="#000" stroke="#000" stroke-width="1.2" stroke-linejoin="miter"/>
<line x1="1223.0" y1="802.8" x2="1207.0" y2="792.8" stroke="#000" stroke-width="1.9" />
<line x1="1227.3" y1="799.1" x2="1211.2" y2="789.1" stroke="#000" stroke-width="1.9" />
<circle cx="1244.3" cy="830.1" r="3.2" fill="#000"/>
<polyline points="1244.3,830.1 1212.1,861.6" fill="none" stroke="#000" stroke-width="2"/>
<polygon points="1212.1,861.6 1202.0,846.3 1220.2,853.7" fill="#000" stroke="#000" stroke-width="1.2" stroke-linejoin="miter"/>
<line x1="1224.2" y1="849.8" x2="1207.6" y2="840.8" stroke="#000" stroke-width="1.9" />
<line x1="1228.2" y1="845.8" x2="1211.6" y2="836.9" stroke="#000" stroke-width="1.9" />
<circle cx="1244.3" cy="854.4" r="3.2" fill="#000"/>
<polyline points="1244.3,854.4 1211.9,885.6" fill="none" stroke="#000" stroke-width="2"/>
<polygon points="1211.9,885.6 1201.8,870.3 1220.0,877.8" fill="#000" stroke="#000" stroke-width="1.2" stroke-linejoin="miter"/>
<line x1="1224.0" y1="873.9" x2="1207.5" y2="864.8" stroke="#000" stroke-width="1.9" />
<line x1="1228.1" y1="870.0" x2="1211.6" y2="860.9" stroke="#000" stroke-width="1.9" />
<circle cx="1244.3" cy="869.0" r="3.2" fill="#000"/>
<polyline points="1244.3,869.0 1212.5,900.8" fill="none" stroke="#000" stroke-width="2"/>
<polygon points="1212.5,900.8 1202.1,885.7 1220.4,892.9" fill="#000" stroke="#000" stroke-width="1.2" stroke-linejoin="miter"/>
<line x1="1224.4" y1="888.9" x2="1207.7" y2="880.1" stroke="#000" stroke-width="1.9" />
<line x1="1228.4" y1="884.9" x2="1211.7" y2="876.2" stroke="#000" stroke-width="1.9" />
<circle cx="1244.3" cy="920.4" r="3.2" fill="#000"/>
<polyline points="1244.3,920.4 1217.4,956.5" fill="none" stroke="#000" stroke-width="2"/>
<polygon points="1217.4,956.5 1205.0,943.0 1224.1,947.5" fill="#000" stroke="#000" stroke-width="1.2" stroke-linejoin="miter"/>
<line x1="1227.5" y1="943.0" x2="1209.7" y2="936.7" stroke="#000" stroke-width="1.9" />
<circle cx="1244.3" cy="942.9" r="3.2" fill="#000"/>
<polyline points="1244.3,942.9 1222.0,982.0" fill="none" stroke="#000" stroke-width="2"/>
<polygon points="1222.0,982.0 1208.0,970.1 1227.6,972.2" fill="#000" stroke="#000" stroke-width="1.2" stroke-linejoin="miter"/>
<line x1="1230.3" y1="967.3" x2="1211.9" y2="963.3" stroke="#000" stroke-width="1.9" />
<circle cx="1244.3" cy="978.2" r="3.2" fill="#000"/>
<polyline points="1244.3,978.2 1218.0,1014.7" fill="none" stroke="#000" stroke-width="2"/>
<polygon points="1218.0,1014.7 1205.3,1001.4 1224.5,1005.6" fill="#000" stroke="#000" stroke-width="1.2" stroke-linejoin="miter"/>
<line x1="1227.8" y1="1001.0" x2="1218.9" y2="998.0" stroke="#000" stroke-width="1.9" />
<circle cx="1244.3" cy="1012.3" r="3.2" fill="#000"/>
<polyline points="1244.3,1012.3 1214.4,1046.0" fill="none" stroke="#000" stroke-width="2"/>
<polygon points="1214.4,1046.0 1203.2,1031.5 1221.9,1037.6" fill="#000" stroke="#000" stroke-width="1.2" stroke-linejoin="miter"/>
<circle cx="1244.3" cy="1046.8" r="3.2" fill="#000"/>
<polyline points="1244.3,1046.8 1220.8,1085.2" fill="none" stroke="#000" stroke-width="2"/>
<polygon points="1220.8,1085.2 1207.2,1072.9 1226.7,1075.6" fill="#000" stroke="#000" stroke-width="1.2" stroke-linejoin="miter"/>
<line x1="1229.6" y1="1070.8" x2="1220.5" y2="1068.5" stroke="#000" stroke-width="1.9" />
<circle cx="1244.3" cy="1080.5" r="3.2" fill="#000"/>
<polyline points="1244.3,1080.5 1232.7,1124.0" fill="none" stroke="#000" stroke-width="2"/>
<polygon points="1232.7,1124.0 1216.2,1116.1 1235.6,1113.1" fill="#000" stroke="#000" stroke-width="1.2" stroke-linejoin="miter"/>
<line x1="1237.1" y1="1107.7" x2="1227.6" y2="1108.1" stroke="#000" stroke-width="1.9" />
<circle cx="1244.3" cy="1113.6" r="3.2" fill="#000"/>
<polyline points="1244.3,1113.6 1241.3,1158.5" fill="none" stroke="#000" stroke-width="2"/>
<line x1="1241.3" y1="1158.5" x2="1222.9" y2="1162.9" stroke="#000" stroke-width="1.9" />
<line x1="1241.6" y1="1152.9" x2="1223.3" y2="1157.3" stroke="#000" stroke-width="1.9" />
<line x1="1242.0" y1="1147.3" x2="1223.7" y2="1151.7" stroke="#000" stroke-width="1.9" />
<line x1="1242.4" y1="1141.7" x2="1224.1" y2="1146.1" stroke="#000" stroke-width="1.9" />
<line x1="1242.8" y1="1136.0" x2="1233.6" y2="1138.2" stroke="#000" stroke-width="1.9" />
<circle cx="1244.3" cy="1161.0" r="3.2" fill="#000"/>
<polyline points="1244.3,1161.0 1259.3,1203.4" fill="none" stroke="#000" stroke-width="2"/>
<line x1="1259.3" y1="1203.4" x2="1244.2" y2="1214.7" stroke="#000" stroke-width="1.9" />
<line x1="1257.4" y1="1198.1" x2="1242.3" y2="1209.4" stroke="#000" stroke-width="1.9" />
<line x1="1255.5" y1="1192.8" x2="1248.0" y2="1198.5" stroke="#000" stroke-width="1.9" />
<circle cx="1244.3" cy="1146.9" r="3.2" fill="#000"/>
</g>
<defs><clipPath id="cw"><rect x="1150" y="98.2" width="200" height="1111.8"/></clipPath></defs>
<line x1="1301.1" y1="424.0" x2="1389.5" y2="424.0" stroke="#999" stroke-width="1.3" />
<line x1="1301.1" y1="614.5" x2="1389.5" y2="614.5" stroke="#999" stroke-width="1.3" />
<line x1="1301.1" y1="749.8" x2="1389.5" y2="749.8" stroke="#999" stroke-width="1.3" />
<line x1="1301.1" y1="854.6" x2="1389.5" y2="854.6" stroke="#999" stroke-width="1.3" />
<line x1="1301.1" y1="940.3" x2="1389.5" y2="940.3" stroke="#999" stroke-width="1.3" />
<line x1="1301.1" y1="1012.8" x2="1389.5" y2="1012.8" stroke="#999" stroke-width="1.3" />
<line x1="1301.1" y1="1075.5" x2="1389.5" y2="1075.5" stroke="#999" stroke-width="1.3" />
<line x1="1301.1" y1="1130.9" x2="1389.5" y2="1130.9" stroke="#999" stroke-width="1.3" />
<line x1="1301.1" y1="1180.4" x2="1389.5" y2="1180.4" stroke="#999" stroke-width="1.3" />
<line x1="1317.5" y1="98.2" x2="1317.5" y2="1203.3" stroke="#000" stroke-width="1.3" stroke-dasharray="4,2.5"/>
<rect x="1317.5" y="147" width="4.6" height="302.3" fill="#ffb0b0" stroke="#c88" stroke-width="1" fill-opacity="0.95"/>
<rect x="1317.5" y="449.3" width="28.5" height="181.8" fill="#ffb0b0" stroke="#c88" stroke-width="1" fill-opacity="0.95"/>
<rect x="1317.5" y="631.1" width="8.0" height="131.4" fill="#ffb0b0" stroke="#c88" stroke-width="1" fill-opacity="0.95"/>
<rect x="1317.5" y="762.5" width="13.8" height="103.0" fill="#ffb0b0" stroke="#c88" stroke-width="1" fill-opacity="0.95"/>
<rect x="1317.5" y="865.5" width="8.0" height="83.6" fill="#ffb0b0" stroke="#c88" stroke-width="1" fill-opacity="0.95"/>
<rect x="1317.5" y="949.1" width="14.9" height="71.6" fill="#ffb0b0" stroke="#c88" stroke-width="1" fill-opacity="0.95"/>
<rect x="1317.5" y="1020.7" width="49.8" height="61.1" fill="#ffb0b0" stroke="#c88" stroke-width="1" fill-opacity="0.95"/>
<rect x="1317.5" y="1081.8" width="28.0" height="53.8" fill="#ffb0b0" stroke="#c88" stroke-width="1" fill-opacity="0.95"/>
<line x1="1317.5" y1="98.2" x2="1317.5" y2="1203.3" stroke="#000" stroke-width="1.3" stroke-dasharray="4,2.5"/>
<text x="1319.0" y="350.6" font-size="13.08" font-weight="bold" fill="#000" textLength="22.5" lengthAdjust="spacingAndGlyphs" >0.9</text>
<text x="1319.0" y="566.6" font-size="13.08" font-weight="bold" fill="#000" textLength="22.5" lengthAdjust="spacingAndGlyphs" >5.4</text>
<text x="1319.0" y="714.6" font-size="13.08" font-weight="bold" fill="#000" textLength="22.5" lengthAdjust="spacingAndGlyphs" >1.5</text>
<text x="1319.0" y="826.6" font-size="13.08" font-weight="bold" fill="#000" textLength="22.5" lengthAdjust="spacingAndGlyphs" >2.7</text>
<text x="1319.0" y="916.6" font-size="13.08" font-weight="bold" fill="#000" textLength="22.5" lengthAdjust="spacingAndGlyphs" >1.5</text>
<text x="1319.0" y="992.6" font-size="13.08" font-weight="bold" fill="#000" textLength="22.5" lengthAdjust="spacingAndGlyphs" >2.9</text>
<text x="1319.0" y="1057.6" font-size="13.08" font-weight="bold" fill="#000" textLength="22.5" lengthAdjust="spacingAndGlyphs" >9.5</text>
<text x="1319.0" y="1115.6" font-size="13.08" font-weight="bold" fill="#000" textLength="22.5" lengthAdjust="spacingAndGlyphs" >5.4</text>
<rect x="1301.1" y="98.2" width="88.40000000000009" height="1105.1" fill="none" stroke="#000" stroke-width="1.6"/>
<g clip-path="url(#ch)">
<circle cx="1714.0" cy="842.3" r="81.2" fill="none" stroke="#bbb" stroke-width="1.2" stroke-dasharray="5,4"/>
<circle cx="1714.0" cy="842.3" r="162.4" fill="none" stroke="#888" stroke-width="1.6"/>
<circle cx="1714.0" cy="842.3" r="243.6" fill="none" stroke="#bbb" stroke-width="1.2" stroke-dasharray="5,4"/>
<circle cx="1714.0" cy="842.3" r="324.8" fill="none" stroke="#888" stroke-width="1.6"/>
<circle cx="1714.0" cy="842.3" r="406.0" fill="none" stroke="#bbb" stroke-width="1.2" stroke-dasharray="5,4"/>
<circle cx="1714.0" cy="842.3" r="487.2" fill="none" stroke="#888" stroke-width="1.6"/>
<circle cx="1714.0" cy="842.3" r="568.4" fill="none" stroke="#bbb" stroke-width="1.2" stroke-dasharray="5,4"/>
<circle cx="1714.0" cy="842.3" r="649.6" fill="none" stroke="#888" stroke-width="1.6"/>
<circle cx="1714.0" cy="842.3" r="730.8" fill="none" stroke="#bbb" stroke-width="1.2" stroke-dasharray="5,4"/>
<circle cx="1714.0" cy="842.3" r="812.0" fill="none" stroke="#888" stroke-width="1.6"/>
<circle cx="1714.0" cy="842.3" r="893.2" fill="none" stroke="#bbb" stroke-width="1.2" stroke-dasharray="5,4"/>
<circle cx="1714.0" cy="842.3" r="974.4" fill="none" stroke="#888" stroke-width="1.6"/>
<circle cx="1714.0" cy="842.3" r="1055.6" fill="none" stroke="#bbb" stroke-width="1.2" stroke-dasharray="5,4"/>
<circle cx="1714.0" cy="842.3" r="1136.8" fill="none" stroke="#888" stroke-width="1.6"/>
<circle cx="1714.0" cy="842.3" r="1218.0" fill="none" stroke="#bbb" stroke-width="1.2" stroke-dasharray="5,4"/>
<circle cx="1714.0" cy="842.3" r="1299.2" fill="none" stroke="#888" stroke-width="1.6"/>
<circle cx="1714.0" cy="842.3" r="1380.4" fill="none" stroke="#bbb" stroke-width="1.2" stroke-dasharray="5,4"/>
<circle cx="1714.0" cy="842.3" r="1461.6" fill="none" stroke="#888" stroke-width="1.6"/>
<circle cx="1714.0" cy="842.3" r="1542.8" fill="none" stroke="#bbb" stroke-width="1.2" stroke-dasharray="5,4"/>
<line x1="1714.0" y1="98.2" x2="1714.0" y2="1203.3" stroke="#888" stroke-width="1.3" stroke-dasharray="5,3"/>
<line x1="1389.5" y1="842.3" x2="2412.2" y2="842.3" stroke="#888" stroke-width="1.3" stroke-dasharray="5,3"/>
<text x="1716.0" y="109.9" font-size="15.51" font-weight="bold" fill="#c8c8c8" textLength="21.0" lengthAdjust="spacingAndGlyphs" >90</text>
<text x="1716.0" y="273.7" font-size="15.51" font-weight="bold" fill="#c8c8c8" textLength="21.0" lengthAdjust="spacingAndGlyphs" >70</text>
<text x="1716.0" y="435.4" font-size="15.51" font-weight="bold" fill="#c8c8c8" textLength="21.0" lengthAdjust="spacingAndGlyphs" >50</text>
<text x="1716.0" y="597.9" font-size="15.51" font-weight="bold" fill="#c8c8c8" textLength="21.0" lengthAdjust="spacingAndGlyphs" >30</text>
<text x="1716.0" y="760.3" font-size="15.51" font-weight="bold" fill="#c8c8c8" textLength="21.0" lengthAdjust="spacingAndGlyphs" >10</text>
<text x="1716.0" y="921.3" font-size="15.51" font-weight="bold" fill="#c8c8c8" textLength="21.0" lengthAdjust="spacingAndGlyphs" >10</text>
<text x="1716.0" y="1085.5" font-size="15.51" font-weight="bold" fill="#c8c8c8" textLength="21.0" lengthAdjust="spacingAndGlyphs" >30</text>
<text x="1469.5" y="841.0" font-size="15.51" font-weight="bold" fill="#c8c8c8" textLength="21.0" lengthAdjust="spacingAndGlyphs" >30</text>
<text x="1634.5" y="841.0" font-size="15.51" font-weight="bold" fill="#c8c8c8" textLength="21.0" lengthAdjust="spacingAndGlyphs" >10</text>
<text x="1797.5" y="841.0" font-size="15.51" font-weight="bold" fill="#c8c8c8" textLength="21.0" lengthAdjust="spacingAndGlyphs" >10</text>
<text x="1959.5" y="841.0" font-size="15.51" font-weight="bold" fill="#c8c8c8" textLength="21.0" lengthAdjust="spacingAndGlyphs" >30</text>
<text x="2121.5" y="841.0" font-size="15.51" font-weight="bold" fill="#c8c8c8" textLength="21.0" lengthAdjust="spacingAndGlyphs" >50</text>
<text x="2284.5" y="841.0" font-size="15.51" font-weight="bold" fill="#c8c8c8" textLength="21.0" lengthAdjust="spacingAndGlyphs" >70</text>
<polygon points="1686.5,768.3 1678.0,712.7 1675.8,640.0 1673.7,614.7 1680.1,576.2 1701.5,531.3 1718.6,497.0 1748.6,460.7 1772.1,440.6 1791.3,419.2 1819.1,413.6 1833.2,413.6 1876.9,435.0 1923.1,457.7 1951.7,482.1 1968.8,505.6 1979.5,527.0 1980.8,529.1 1958.1,604.0 1868.3,660.0 1690.8,764.0" fill="#add8e6" fill-opacity="0.32" stroke="#add8e6" stroke-width="2" stroke-opacity="0.7"/>
<line x1="1714.0" y1="842.3" x2="1958.0" y2="604.0" stroke="#c4c4c4" stroke-width="5" />
<polygon points="1958,604 1944,610 1952,618" fill="#c4c4c4"/>
<polyline points="2142.0,571.0 2148.5,591.2 2139.9,640.0 2116.4,725.5 2103.6,736.2 2090.7,746.9 2061.6,792.7 2045.8,811.1 2048.0,819.6 2071.5,844.4 2090.7,837.6" fill="none" stroke="#ffec9c" stroke-width="8.5" stroke-linejoin="round" stroke-linecap="round"/>
<polyline points="2114.2,454.3 2127.1,475.7 2128.0,490.6 2142.0,480.0 2169.0,460.7 2164.3,473.5 2131.4,550.5 2142.0,571.0" fill="none" stroke="#ffd700" stroke-width="8.5" stroke-linejoin="round" stroke-linecap="round"/>
<polyline points="1983.8,497.9 1977.4,471.4 1941.0,450.0 1953.8,428.6 1965.4,429.9 2009.5,435.0 2039.4,449.1 2076.6,450.9 2114.2,454.3" fill="none" stroke="#ff8c00" stroke-width="8.5" stroke-linejoin="round" stroke-linecap="round"/>
<polyline points="1772.1,440.6 1791.3,419.2 1819.1,413.6 1833.2,413.6 1876.9,435.0 1923.1,457.7 1951.7,482.1 1968.8,505.6 1979.5,527.0 1987.2,520.6 1986.0,501.3 1983.8,497.9" fill="none" stroke="#ff0000" stroke-width="8.5" stroke-linejoin="round" stroke-linecap="round"/>
<polyline points="1686.5,768.3 1678.0,712.7 1675.8,640.0 1673.7,614.7 1680.1,576.2 1701.5,531.3 1718.6,497.0 1748.6,460.7 1772.1,440.6" fill="none" stroke="#800080" stroke-width="8.5" stroke-linejoin="round" stroke-linecap="butt"/>
<circle cx="1701.5" cy="531.3" r="10.5" fill="#fff" stroke="#000" stroke-width="1.6"/>
<text x="1693.4" y="536.8" font-size="15.45" font-weight="bold" fill="#000" textLength="16.1" lengthAdjust="spacingAndGlyphs" >.5</text>
<circle cx="1772.1" cy="440.6" r="10.5" fill="#fff" stroke="#000" stroke-width="1.6"/>
<text x="1766.9" y="446.1" font-size="15.45" font-weight="bold" fill="#000" textLength="10.4" lengthAdjust="spacingAndGlyphs" >1</text>
<circle cx="1923.1" cy="457.7" r="10.5" fill="#fff" stroke="#000" stroke-width="1.6"/>
<text x="1917.9" y="463.2" font-size="15.45" font-weight="bold" fill="#000" textLength="10.4" lengthAdjust="spacingAndGlyphs" >2</text>
<circle cx="1983.8" cy="497.9" r="10.5" fill="#fff" stroke="#000" stroke-width="1.6"/>
<text x="1978.6" y="503.4" font-size="15.45" font-weight="bold" fill="#000" textLength="10.4" lengthAdjust="spacingAndGlyphs" >3</text>
<circle cx="1965.4" cy="429.9" r="10.5" fill="#fff" stroke="#000" stroke-width="1.6"/>
<text x="1960.2" y="435.4" font-size="15.45" font-weight="bold" fill="#000" textLength="10.4" lengthAdjust="spacingAndGlyphs" >4</text>
<circle cx="2076.6" cy="450.9" r="10.5" fill="#fff" stroke="#000" stroke-width="1.6"/>
<text x="2071.4" y="456.4" font-size="15.45" font-weight="bold" fill="#000" textLength="10.4" lengthAdjust="spacingAndGlyphs" >5</text>
<circle cx="2114.2" cy="454.3" r="10.5" fill="#fff" stroke="#000" stroke-width="1.6"/>
<text x="2109.0" y="459.8" font-size="15.45" font-weight="bold" fill="#000" textLength="10.4" lengthAdjust="spacingAndGlyphs" >6</text>
<circle cx="2128" cy="490.6" r="10.5" fill="#fff" stroke="#000" stroke-width="1.6"/>
<text x="2122.8" y="496.1" font-size="15.45" font-weight="bold" fill="#000" textLength="10.4" lengthAdjust="spacingAndGlyphs" >7</text>
<circle cx="2164.3" cy="473.5" r="10.5" fill="#fff" stroke="#000" stroke-width="1.6"/>
<text x="2159.1" y="479.0" font-size="15.45" font-weight="bold" fill="#000" textLength="10.4" lengthAdjust="spacingAndGlyphs" >8</text>
<circle cx="2142" cy="571" r="10.5" fill="#fff" stroke="#000" stroke-width="1.6"/>
<text x="2136.8" y="576.5" font-size="15.45" font-weight="bold" fill="#000" textLength="10.4" lengthAdjust="spacingAndGlyphs" >9</text>
<circle cx="2061.6" cy="792.7" r="10.5" fill="#fff" stroke="#000" stroke-width="1.6"/>
<text x="2051.2" y="798.2" font-size="15.45" font-weight="bold" fill="#000" textLength="20.9" lengthAdjust="spacingAndGlyphs" >11</text>
<polygon points="1811.5,639.5 1826.5,639.5 1819,653" fill="#b03a3a" opacity="0.85"/>
<text x="1801.6" y="630.2" font-size="13.70" font-weight="bold" fill="#a83232" textLength="33.3" lengthAdjust="spacingAndGlyphs" >DTM</text>
<text x="1903.2" y="379.4" font-size="18.09" font-weight="bold" fill="#000" textLength="28.7" lengthAdjust="spacingAndGlyphs" >LM</text>
<text x="2006.0" y="477.8" font-size="18.09" font-weight="bold" fill="#000" textLength="36.8" lengthAdjust="spacingAndGlyphs" >MW</text>
<text x="1964.0" y="608.2" font-size="18.09" font-weight="bold" fill="#000" textLength="31.0" lengthAdjust="spacingAndGlyphs" >RM</text>
<text x="2293.9" y="419.2" font-size="15.86" font-weight="bold" fill="#ffc875" textLength="25.7" lengthAdjust="spacingAndGlyphs" >DN</text>
<text x="1988.1" y="794.6" font-size="15.86" font-weight="bold" fill="#ffc875" textLength="23.8" lengthAdjust="spacingAndGlyphs" >UP</text>
<text x="1411.5" y="124.8" font-size="21.45" font-weight="bold" fill="#666" textLength="388.9" lengthAdjust="spacingAndGlyphs" >SM: RIGHT MOVING | NE @ 42 kts</text>
<text x="1411.5" y="155.2" font-size="21.45" font-weight="normal" fill="#666" textLength="173.1" lengthAdjust="spacingAndGlyphs" >RM: NE @ 42 kts</text>
<text x="1411.5" y="195.0" font-size="21.45" font-weight="normal" fill="#666" textLength="185.8" lengthAdjust="spacingAndGlyphs" >LM: NNE @ 61 kts</text>
<text x="1411.5" y="233.9" font-size="21.45" font-weight="normal" fill="#666" textLength="178.0" lengthAdjust="spacingAndGlyphs" >MW: NE @ 57 kts</text>
<text x="1404.2" y="272.8" font-size="21.45" font-weight="normal" fill="#666" textLength="203.0" lengthAdjust="spacingAndGlyphs" >DTM: NNE @ 27 kts</text>
<text x="1411.5" y="312.2" font-size="21.45" font-weight="normal" fill="#666" textLength="153.6" lengthAdjust="spacingAndGlyphs" >US: E @ 35 kts</text>
<text x="1411.5" y="350.7" font-size="21.45" font-weight="normal" fill="#666" textLength="169.9" lengthAdjust="spacingAndGlyphs" >DS: NE @ 89 kts</text>
</g>
<defs><clipPath id="cr"><rect x="1389.5" y="943.2" width="259.70000000000005" height="260.0"/></clipPath><filter id="noise" x="0" y="0" width="100%" height="100%"><feTurbulence type="fractalNoise" baseFrequency="0.35" numOctaves="2" seed="3"/><feColorMatrix type="matrix" values="0 0 0 0 0.62  0 0 0 0 0.62  0 0 0 0 0.58  0 0 0 0.5 -0.1"/></filter></defs>
<g clip-path="url(#cr)">
<rect x="1389.5" y="943.2" width="259.70000000000005" height="260.0" fill="#a39f96"/>
<rect x="1389.5" y="943.2" width="259.70000000000005" height="260.0" filter="url(#noise)" opacity="0.6"/>
<polyline points="1389.5,955.9 1425.0,955.9" fill="none" stroke="#1a1a1a" stroke-width="0.9" stroke-linejoin="round" />
<polyline points="1540.5,951.4 1617.7,951.4" fill="none" stroke="#1a1a1a" stroke-width="0.9" stroke-linejoin="round" />
<polyline points="1504.1,962.3 1540.5,962.3" fill="none" stroke="#1a1a1a" stroke-width="0.9" stroke-linejoin="round" />
<polyline points="1418.6,968.6 1454.1,968.6" fill="none" stroke="#1a1a1a" stroke-width="0.9" stroke-linejoin="round" />
<polyline points="1389.5,974.1 1418.6,974.1" fill="none" stroke="#1a1a1a" stroke-width="0.9" stroke-linejoin="round" />
<polyline points="1454.1,974.1 1497.7,974.1" fill="none" stroke="#1a1a1a" stroke-width="0.9" stroke-linejoin="round" />
<polyline points="1617.7,974.1 1649.2,974.1" fill="none" stroke="#1a1a1a" stroke-width="0.9" stroke-linejoin="round" />
<polyline points="1580.5,982.3 1617.7,982.3" fill="none" stroke="#1a1a1a" stroke-width="0.9" stroke-linejoin="round" />
<polyline points="1497.7,990.5 1580.5,990.5" fill="none" stroke="#1a1a1a" stroke-width="0.9" stroke-linejoin="round" />
<polyline points="1419.5,991.4 1454.1,991.4" fill="none" stroke="#1a1a1a" stroke-width="0.9" stroke-linejoin="round" />
<polyline points="1389.5,996.8 1419.5,996.8" fill="none" stroke="#1a1a1a" stroke-width="0.9" stroke-linejoin="round" />
<polyline points="1454.1,996.8 1497.7,996.8" fill="none" stroke="#1a1a1a" stroke-width="0.9" stroke-linejoin="round" />
<polyline points="1617.7,996.8 1649.2,996.8" fill="none" stroke="#1a1a1a" stroke-width="0.9" stroke-linejoin="round" />
<polyline points="1580.5,1002.3 1617.7,1002.3" fill="none" stroke="#1a1a1a" stroke-width="0.9" stroke-linejoin="round" />
<polyline points="1454.1,945.9 1504.1,945.9" fill="none" stroke="#1a1a1a" stroke-width="0.9" stroke-linejoin="round" />
<polyline points="1389.5,951.4 1397.7,951.4" fill="none" stroke="#1a1a1a" stroke-width="0.9" stroke-linejoin="round" />
<polyline points="1397.7,943.2 1397.7,955.9" fill="none" stroke="#1a1a1a" stroke-width="0.9" stroke-linejoin="round" />
<polyline points="1418.6,955.9 1419.5,1021.4" fill="none" stroke="#1a1a1a" stroke-width="0.9" stroke-linejoin="round" />
<polyline points="1425.0,943.2 1425.0,955.9" fill="none" stroke="#1a1a1a" stroke-width="0.9" stroke-linejoin="round" />
<polyline points="1454.1,943.2 1454.1,996.8" fill="none" stroke="#1a1a1a" stroke-width="0.9" stroke-linejoin="round" />
<polyline points="1462.3,996.8 1462.3,1021.4" fill="none" stroke="#1a1a1a" stroke-width="0.9" stroke-linejoin="round" />
<polyline points="1497.7,974.1 1497.7,1021.4" fill="none" stroke="#1a1a1a" stroke-width="0.9" stroke-linejoin="round" />
<polyline points="1504.1,943.2 1504.1,974.1" fill="none" stroke="#1a1a1a" stroke-width="0.9" stroke-linejoin="round" />
<polyline points="1540.5,943.2 1540.5,1021.4" fill="none" stroke="#1a1a1a" stroke-width="0.9" stroke-linejoin="round" />
<polyline points="1560.5,943.2 1560.5,951.4" fill="none" stroke="#1a1a1a" stroke-width="0.9" stroke-linejoin="round" />
<polyline points="1580.5,951.4 1580.5,1021.4" fill="none" stroke="#1a1a1a" stroke-width="0.9" stroke-linejoin="round" />
<polyline points="1591.4,943.2 1591.4,951.4" fill="none" stroke="#1a1a1a" stroke-width="0.9" stroke-linejoin="round" />
<polyline points="1617.7,943.2 1617.7,1021.4" fill="none" stroke="#1a1a1a" stroke-width="0.9" stroke-linejoin="round" />
<polyline points="1646.8,943.2 1646.8,1021.4" fill="none" stroke="#1a1a1a" stroke-width="0.9" stroke-linejoin="round" />
<polyline points="1389.5,1047.7 1400.5,1047.7" fill="none" stroke="#1a1a1a" stroke-width="0.9" stroke-linejoin="round" />
<polyline points="1400.5,1034.1 1400.5,1047.7" fill="none" stroke="#1a1a1a" stroke-width="0.9" stroke-linejoin="round" />
<polyline points="1449.5,1055.9 1477.7,1055.9" fill="none" stroke="#1a1a1a" stroke-width="0.9" stroke-linejoin="round" />
<polyline points="1477.7,1048.6 1554.1,1048.6" fill="none" stroke="#1a1a1a" stroke-width="0.9" stroke-linejoin="round" />
<polyline points="1389.5,1075.9 1574.1,1075.9" fill="none" stroke="#1a1a1a" stroke-width="0.9" stroke-linejoin="round" />
<polyline points="1540.5,1090.5 1574.1,1090.5" fill="none" stroke="#1a1a1a" stroke-width="0.9" stroke-linejoin="round" />
<polyline points="1395.0,1098.6 1443.2,1098.6" fill="none" stroke="#1a1a1a" stroke-width="0.9" stroke-linejoin="round" />
<polyline points="1471.4,1104.1 1540.5,1104.1" fill="none" stroke="#1a1a1a" stroke-width="0.9" stroke-linejoin="round" />
<polyline points="1574.1,1110.5 1602.3,1110.5" fill="none" stroke="#1a1a1a" stroke-width="0.9" stroke-linejoin="round" />
<polyline points="1443.2,1115.9 1465.0,1115.9" fill="none" stroke="#1a1a1a" stroke-width="0.9" stroke-linejoin="round" />
<polyline points="1395.0,1121.4 1445.0,1121.4" fill="none" stroke="#1a1a1a" stroke-width="0.9" stroke-linejoin="round" />
<polyline points="1540.5,1121.4 1574.1,1121.4" fill="none" stroke="#1a1a1a" stroke-width="0.9" stroke-linejoin="round" />
<polyline points="1465.0,1104.1 1465.0,1126.8" fill="none" stroke="#1a1a1a" stroke-width="0.9" stroke-linejoin="round" />
<polyline points="1389.5,1144.1 1444.1,1144.1" fill="none" stroke="#1a1a1a" stroke-width="0.9" stroke-linejoin="round" />
<polyline points="1431.4,1161.4 1479.5,1161.4" fill="none" stroke="#1a1a1a" stroke-width="0.9" stroke-linejoin="round" />
<polyline points="1505.9,1161.4 1554.1,1161.4" fill="none" stroke="#1a1a1a" stroke-width="0.9" stroke-linejoin="round" />
<polyline points="1588.6,1166.8 1608.6,1166.8" fill="none" stroke="#1a1a1a" stroke-width="0.9" stroke-linejoin="round" />
<polyline points="1422.3,1047.7 1422.3,1075.9" fill="none" stroke="#1a1a1a" stroke-width="0.9" stroke-linejoin="round" />
<polyline points="1449.5,1022.3 1449.5,1060.5" fill="none" stroke="#1a1a1a" stroke-width="0.9" stroke-linejoin="round" />
<polyline points="1477.7,1022.3 1477.7,1075.9" fill="none" stroke="#1a1a1a" stroke-width="0.9" stroke-linejoin="round" />
<polyline points="1519.5,1022.3 1519.5,1075.9" fill="none" stroke="#1a1a1a" stroke-width="0.9" stroke-linejoin="round" />
<polyline points="1566.8,1022.3 1566.8,1034.1" fill="none" stroke="#1a1a1a" stroke-width="0.9" stroke-linejoin="round" />
<polyline points="1615.0,1022.3 1615.0,1060.5" fill="none" stroke="#1a1a1a" stroke-width="0.9" stroke-linejoin="round" />
<polyline points="1627.7,1022.3 1627.7,1075.9" fill="none" stroke="#1a1a1a" stroke-width="0.9" stroke-linejoin="round" />
<polyline points="1395.0,1075.9 1395.0,1144.1" fill="none" stroke="#1a1a1a" stroke-width="0.9" stroke-linejoin="round" />
<polyline points="1443.2,1075.9 1444.1,1161.4" fill="none" stroke="#1a1a1a" stroke-width="0.9" stroke-linejoin="round" />
<polyline points="1471.4,1075.9 1471.4,1104.1" fill="none" stroke="#1a1a1a" stroke-width="0.9" stroke-linejoin="round" />
<polyline points="1505.9,1075.9 1505.9,1171.4" fill="none" stroke="#1a1a1a" stroke-width="0.9" stroke-linejoin="round" />
<polyline points="1540.5,1090.5 1540.5,1155.0" fill="none" stroke="#1a1a1a" stroke-width="0.9" stroke-linejoin="round" />
<polyline points="1574.1,1075.9 1574.1,1124.1" fill="none" stroke="#1a1a1a" stroke-width="0.9" stroke-linejoin="round" />
<polyline points="1479.5,1126.8 1479.5,1171.4" fill="none" stroke="#1a1a1a" stroke-width="0.9" stroke-linejoin="round" />
<polyline points="1602.3,1096.8 1602.3,1126.8" fill="none" stroke="#1a1a1a" stroke-width="0.9" stroke-linejoin="round" />
<polyline points="1586.8,1122.3 1586.8,1166.8" fill="none" stroke="#1a1a1a" stroke-width="0.9" stroke-linejoin="round" />
<polyline points="1565.0,1125.9 1565.0,1160.5" fill="none" stroke="#1a1a1a" stroke-width="0.9" stroke-linejoin="round" />
<polyline points="1554.1,1155.0 1554.1,1171.4" fill="none" stroke="#1a1a1a" stroke-width="0.9" stroke-linejoin="round" />
<polyline points="1608.6,1144.1 1608.6,1171.4" fill="none" stroke="#1a1a1a" stroke-width="0.9" stroke-linejoin="round" />
<polyline points="1632.3,1096.8 1632.3,1116.8" fill="none" stroke="#1a1a1a" stroke-width="0.9" stroke-linejoin="round" />
<polyline points="1602.3,1096.8 1632.3,1096.8" fill="none" stroke="#1a1a1a" stroke-width="0.9" stroke-linejoin="round" />
<polyline points="1615.0,1060.5 1627.7,1060.5" fill="none" stroke="#1a1a1a" stroke-width="0.9" stroke-linejoin="round" />
<polyline points="1627.7,1047.7 1649.2,1047.7" fill="none" stroke="#1a1a1a" stroke-width="0.9" stroke-linejoin="round" />
<polyline points="1574.1,1132.3 1610.5,1132.3" fill="none" stroke="#1a1a1a" stroke-width="0.9" stroke-linejoin="round" />
<polyline points="1610.5,1126.8 1649.2,1126.8" fill="none" stroke="#1a1a1a" stroke-width="0.9" stroke-linejoin="round" />
<polyline points="1431.4,1161.4 1431.4,1171.4" fill="none" stroke="#1a1a1a" stroke-width="0.9" stroke-linejoin="round" />
<polyline points="1630.5,1076.8 1649.2,1080.5" fill="none" stroke="#1a1a1a" stroke-width="0.9" stroke-linejoin="round" />
<polyline points="1389.5,1024.1 1401.4,1034.1 1410.5,1035.0 1422.3,1047.7 1426.8,1054.1 1443.2,1060.5 1449.5,1060.5" fill="none" stroke="#1a1a1a" stroke-width="0.9" stroke-linejoin="round" />
<polyline points="1465.0,1126.8 1486.8,1129.5 1512.3,1132.3 1528.6,1146.8 1530.5,1154.1 1548.6,1156.8 1566.8,1155.9 1586.8,1155.0 1610.5,1142.3 1626.8,1138.6 1649.2,1133.2" fill="none" stroke="#1a1a1a" stroke-width="0.9" stroke-linejoin="round" />
<polyline points="1545.0,1044.1 1555.9,1047.7 1549.5,1055.0 1554.1,1065.9 1561.4,1070.5 1562.3,1062.3 1566.8,1053.2 1574.1,1060.5 1580.5,1064.1 1583.2,1067.7 1597.7,1075.9 1597.7,1078.6 1613.2,1080.5" fill="none" stroke="#1a1a1a" stroke-width="0.9" stroke-linejoin="round" />
<polyline points="1526.8,1075.9 1526.8,1085.9 1540.5,1090.5" fill="none" stroke="#1a1a1a" stroke-width="0.9" stroke-linejoin="round" />
<polyline points="1566.8,1034.1 1555.9,1040.5 1545.0,1044.1" fill="none" stroke="#1a1a1a" stroke-width="0.9" stroke-linejoin="round" />
<polyline points="1630.5,1093.2 1639.5,1098.6 1649.2,1100.5" fill="none" stroke="#1a1a1a" stroke-width="0.9" stroke-linejoin="round" />
<polyline points="1389.5,1021.4 1649.2,1021.4" fill="none" stroke="#000" stroke-width="2.6" stroke-linejoin="round" />
<polyline points="1389.5,1189.5 1395.9,1186.8 1405.0,1200.5 1425.0,1203.2" fill="none" stroke="#000" stroke-width="2.6" stroke-linejoin="round" />
<circle cx="1519.2" cy="1136.5" r="7.3" fill="none" stroke="#000" stroke-width="2"/>
<line x1="1506.8" y1="1136.5" x2="1531.4" y2="1136.5" stroke="#000" stroke-width="3.2" />
<line x1="1519.2" y1="1125.0" x2="1519.2" y2="1149.5" stroke="#000" stroke-width="2" />
<rect x="1406.8" y="1172.3" width="223.7" height="26.3" fill="#f2f2f2" fill-opacity="0.92" stroke="#aaa" stroke-width="1"/>
<text x="1411.7" y="1192.0" font-size="18.41" font-weight="bold" fill="#111" textLength="213.8" lengthAdjust="spacingAndGlyphs" >RADAR UNAVAILABLE</text>
</g>
<rect x="1389.5" y="943.2" width="259.70000000000005" height="260.0" fill="none" stroke="#000" stroke-width="1.6"/>
<rect x="2192.5" y="1021.5" width="219.7" height="181.8" fill="#fff" stroke="#000" stroke-width="1.5"/>
<text x="2209.0" y="1049.0" font-size="18.54" font-weight="bold" fill="#000" textLength="32.5" lengthAdjust="spacingAndGlyphs" >0-3</text>
<text x="2241.5" y="1049.0" font-size="12.36" font-weight="bold" fill="#000" textLength="20.5" lengthAdjust="spacingAndGlyphs" >km</text>
<text x="2268.3" y="1049.0" font-size="18.54" font-weight="bold" fill="#000" textLength="48.7" lengthAdjust="spacingAndGlyphs" >SRH,</text>
<text x="2338.2" y="1049.0" font-size="18.54" font-weight="bold" fill="#000" textLength="47.5" lengthAdjust="spacingAndGlyphs" >BWD</text>
<text x="2209.0" y="1078.5" font-size="18.57" font-weight="bold" fill="#4a6fe0" textLength="95.8" lengthAdjust="spacingAndGlyphs" >526 m²/s²</text>
<text x="2336.0" y="1078.5" font-size="18.57" font-weight="bold" fill="#4a6fe0" textLength="52.0" lengthAdjust="spacingAndGlyphs" >49 kt</text>
<text x="2209.0" y="1109.0" font-size="18.54" font-weight="bold" fill="#000" textLength="32.5" lengthAdjust="spacingAndGlyphs" >0-6</text>
<text x="2241.5" y="1109.0" font-size="12.36" font-weight="bold" fill="#000" textLength="20.5" lengthAdjust="spacingAndGlyphs" >km</text>
<text x="2268.3" y="1109.0" font-size="18.54" font-weight="bold" fill="#000" textLength="48.7" lengthAdjust="spacingAndGlyphs" >SRH,</text>
<text x="2338.2" y="1109.0" font-size="18.54" font-weight="bold" fill="#000" textLength="47.5" lengthAdjust="spacingAndGlyphs" >BWD</text>
<text x="2209.0" y="1135.5" font-size="18.57" font-weight="bold" fill="#4a6fe0" textLength="95.8" lengthAdjust="spacingAndGlyphs" >619 m²/s²</text>
<text x="2336.0" y="1135.5" font-size="18.57" font-weight="bold" fill="#4a6fe0" textLength="52.0" lengthAdjust="spacingAndGlyphs" >65 kt</text>
<text x="2203.0" y="1168.0" font-size="17.92" font-weight="bold" fill="#000" textLength="38.1" lengthAdjust="spacingAndGlyphs" >SCP</text>
<text x="2257.4" y="1168.0" font-size="17.92" font-weight="bold" fill="#000" textLength="37.2" lengthAdjust="spacingAndGlyphs" >STP</text>
<text x="2315.5" y="1168.0" font-size="17.92" font-weight="bold" fill="#000" textLength="32.9" lengthAdjust="spacingAndGlyphs" >EHI</text>
<text x="2370.5" y="1168.0" font-size="17.92" font-weight="bold" fill="#000" textLength="32.9" lengthAdjust="spacingAndGlyphs" >EHI</text>
<text x="2312.9" y="1176.5" font-size="10.92" font-weight="bold" fill="#000" textLength="38.1" lengthAdjust="spacingAndGlyphs" >0–1km</text>
<text x="2367.9" y="1176.5" font-size="10.92" font-weight="bold" fill="#000" textLength="38.1" lengthAdjust="spacingAndGlyphs" >0–3km</text>
<text x="2209.9" y="1194.0" font-size="17.92" font-weight="bold" fill="#b22222" textLength="24.2" lengthAdjust="spacingAndGlyphs" >45</text>
<text x="2263.9" y="1194.0" font-size="17.92" font-weight="bold" fill="#b22222" textLength="24.2" lengthAdjust="spacingAndGlyphs" >15</text>
<text x="2319.9" y="1194.0" font-size="17.92" font-weight="bold" fill="#ff4500" textLength="24.2" lengthAdjust="spacingAndGlyphs" >10</text>
<text x="2374.9" y="1194.0" font-size="17.92" font-weight="bold" fill="#ff4500" textLength="24.2" lengthAdjust="spacingAndGlyphs" >14</text>
<rect x="1389.5" y="98.2" width="1022.6999999999998" height="1105.1" fill="none" stroke="#000" stroke-width="1.6"/>
<rect x="31.5" y="1203.5" width="892.8" height="233.6" fill="#fff" stroke="#000" stroke-width="1.5"/>
<text x="132.6" y="1243.0" font-size="21.45" font-weight="bold" fill="#000" textLength="114.8" lengthAdjust="spacingAndGlyphs" >SR-ECAPE</text>
<text x="297.8" y="1243.0" font-size="21.45" font-weight="bold" fill="#000" textLength="60.9" lengthAdjust="spacingAndGlyphs" >CAPE</text>
<text x="423.9" y="1243.0" font-size="21.45" font-weight="bold" fill="#000" textLength="75.4" lengthAdjust="spacingAndGlyphs" >6CAPE</text>
<text x="565.0" y="1243.0" font-size="21.45" font-weight="bold" fill="#000" textLength="75.4" lengthAdjust="spacingAndGlyphs" >3CAPE</text>
<text x="712.1" y="1243.0" font-size="21.45" font-weight="bold" fill="#000" textLength="40.5" lengthAdjust="spacingAndGlyphs" >CIN</text>
<text x="839.7" y="1243.0" font-size="21.45" font-weight="bold" fill="#000" textLength="41.8" lengthAdjust="spacingAndGlyphs" >LCL</text>
<text x="45.3" y="1282.2" font-size="21.45" font-weight="bold" fill="#000" textLength="39.2" lengthAdjust="spacingAndGlyphs" >SB:</text>
<text x="132.6" y="1282.2" font-size="21.45" font-weight="bold" fill="#b22222" textLength="109.3" lengthAdjust="spacingAndGlyphs" >3662 J/kg</text>
<text x="275.6" y="1282.2" font-size="21.45" font-weight="bold" fill="#ff4500" textLength="109.3" lengthAdjust="spacingAndGlyphs" >4315 J/kg</text>
<text x="418.9" y="1282.2" font-size="21.45" font-weight="bold" fill="#ff4500" textLength="109.3" lengthAdjust="spacingAndGlyphs" >1029 J/kg</text>
<text x="560.0" y="1282.2" font-size="21.45" font-weight="bold" fill="#ff4500" textLength="94.9" lengthAdjust="spacingAndGlyphs" >241 J/kg</text>
<text x="693.0" y="1282.2" font-size="21.45" font-weight="bold" fill="#ff4500" textLength="65.9" lengthAdjust="spacingAndGlyphs" >0 J/kg</text>
<text x="825.5" y="1282.2" font-size="21.45" font-weight="bold" fill="#ff4500" textLength="72.4" lengthAdjust="spacingAndGlyphs" >451 m</text>
<text x="45.3" y="1321.0" font-size="21.45" font-weight="bold" fill="#000" textLength="46.0" lengthAdjust="spacingAndGlyphs" >MU:</text>
<text x="132.6" y="1321.0" font-size="21.45" font-weight="bold" fill="#b22222" textLength="109.3" lengthAdjust="spacingAndGlyphs" >3662 J/kg</text>
<text x="275.6" y="1321.0" font-size="21.45" font-weight="bold" fill="#ff4500" textLength="109.3" lengthAdjust="spacingAndGlyphs" >4315 J/kg</text>
<text x="418.9" y="1321.0" font-size="21.45" font-weight="bold" fill="#ff4500" textLength="109.3" lengthAdjust="spacingAndGlyphs" >1029 J/kg</text>
<text x="560.0" y="1321.0" font-size="21.45" font-weight="bold" fill="#ff4500" textLength="94.9" lengthAdjust="spacingAndGlyphs" >241 J/kg</text>
<text x="693.0" y="1321.0" font-size="21.45" font-weight="bold" fill="#ff4500" textLength="65.9" lengthAdjust="spacingAndGlyphs" >0 J/kg</text>
<text x="825.5" y="1321.0" font-size="21.45" font-weight="bold" fill="#ff4500" textLength="72.4" lengthAdjust="spacingAndGlyphs" >451 m</text>
<text x="45.3" y="1360.2" font-size="21.45" font-weight="bold" fill="#000" textLength="42.3" lengthAdjust="spacingAndGlyphs" >ML:</text>
<text x="132.6" y="1360.2" font-size="21.45" font-weight="bold" fill="#b22222" textLength="109.3" lengthAdjust="spacingAndGlyphs" >2843 J/kg</text>
<text x="275.6" y="1360.2" font-size="21.45" font-weight="bold" fill="#ff4500" textLength="109.3" lengthAdjust="spacingAndGlyphs" >3567 J/kg</text>
<text x="418.9" y="1360.2" font-size="21.45" font-weight="bold" fill="#ff4500" textLength="94.9" lengthAdjust="spacingAndGlyphs" >853 J/kg</text>
<text x="560.0" y="1360.2" font-size="21.45" font-weight="bold" fill="#ff4500" textLength="94.9" lengthAdjust="spacingAndGlyphs" >173 J/kg</text>
<text x="693.0" y="1360.2" font-size="21.45" font-weight="bold" fill="#ff4500" textLength="74.5" lengthAdjust="spacingAndGlyphs" >-1 J/kg</text>
<text x="825.5" y="1360.2" font-size="21.45" font-weight="bold" fill="#ff4500" textLength="72.4" lengthAdjust="spacingAndGlyphs" >613 m</text>
<text x="45.3" y="1393.6" font-size="21.45" font-weight="bold" fill="#000" textLength="86.5" lengthAdjust="spacingAndGlyphs" >DCAPE:</text>
<text x="143.4" y="1393.6" font-size="21.45" font-weight="bold" fill="#90b2ee" textLength="109.3" lengthAdjust="spacingAndGlyphs" >1513 J/kg</text>
<text x="45.3" y="1420.5" font-size="21.45" font-weight="bold" fill="#000" textLength="66.1" lengthAdjust="spacingAndGlyphs" >DCIN:</text>
<text x="143.4" y="1420.5" font-size="21.45" font-weight="bold" fill="#90b2ee" textLength="65.9" lengthAdjust="spacingAndGlyphs" >0 J/kg</text>
<text x="287.5" y="1413.2" font-size="21.45" font-weight="bold" fill="#000" textLength="124.3" lengthAdjust="spacingAndGlyphs" >MUNCAPE:</text>
<text x="414.3" y="1413.2" font-size="21.45" font-weight="bold" fill="#bc7272" textLength="36.9" lengthAdjust="spacingAndGlyphs" >0.3</text>
<text x="495.8" y="1413.2" font-size="21.45" font-weight="bold" fill="#000" textLength="13.3" lengthAdjust="spacingAndGlyphs" >Γ</text>
<text x="509.1" y="1410.5" font-size="13.91" font-weight="bold" fill="#000" textLength="25.5" lengthAdjust="spacingAndGlyphs" >0–3</text>
<text x="534.6" y="1413.2" font-size="21.45" font-weight="bold" fill="#000" textLength="8.3" lengthAdjust="spacingAndGlyphs" >:</text>
<text x="561.1" y="1413.2" font-size="21.45" font-weight="bold" fill="#8b4513" textLength="106.7" lengthAdjust="spacingAndGlyphs" >6 Δ°C/km</text>
<text x="693.7" y="1413.2" font-size="21.45" font-weight="bold" fill="#000" textLength="13.3" lengthAdjust="spacingAndGlyphs" >Γ</text>
<text x="707.0" y="1410.5" font-size="13.91" font-weight="bold" fill="#000" textLength="25.5" lengthAdjust="spacingAndGlyphs" >3–6</text>
<text x="732.5" y="1413.2" font-size="21.45" font-weight="bold" fill="#000" textLength="8.3" lengthAdjust="spacingAndGlyphs" >:</text>
<text x="766.0" y="1413.2" font-size="21.45" font-weight="bold" fill="#8b4513" textLength="106.7" lengthAdjust="spacingAndGlyphs" >7 Δ°C/km</text>
<circle cx="77.1" cy="1475.8" r="32.4" fill="#e6ebf5" stroke="#1c2230" stroke-width="1.6"/>
<polyline points="58.0,1480.0 62.0,1485.0 60.0,1490.0 66.0,1494.0" fill="none" stroke="#9c9" stroke-width="1.2" stroke-linejoin="round" opacity="0.7"/>
<polyline points="68.0,1449.0 69.0,1470.0 76.0,1480.0 90.0,1505.0" fill="none" stroke="#f3a0a0" stroke-width="0.8" stroke-linejoin="round" opacity="0.7" stroke-dasharray="2,1.5"/>
<text x="47.9" y="1472.5" font-size="11.23" font-weight="bold" fill="#000" textLength="60.0" lengthAdjust="spacingAndGlyphs" >SOUNDER</text>
<path d="M80.8,1488.6 L80.2,1474.5 Q88,1472 89.8,1477 Q91,1482 81,1482.5" fill="none" stroke="#3a8a2a" stroke-width="2.6" stroke-linecap="round"/>
<path d="M93.6,1473 L99.8,1481.5 L107.2,1473 M99.8,1481.5 L99.2,1488.6" fill="none" stroke="#d01010" stroke-width="2.6"/>
<line x1="58.5" y1="1498.7" x2="95.5" y2="1498.7" stroke="#333" stroke-width="1.6" stroke-dasharray="2.5,1.2"/>
<line x1="65.0" y1="1502.0" x2="90.0" y2="1502.0" stroke="#333" stroke-width="1.4" stroke-dasharray="2.5,1.2"/>
<text x="134.5" y="1471.1" font-size="28.56" font-weight="bold" fill="#a4c0f0" textLength="745.5" lengthAdjust="spacingAndGlyphs" >SOUNDERPY VERTICAL PROFILE ANALYSIS TOOL</text>
<text x="227.9" y="1497.4" font-size="21.40" font-weight="bold" fill="#a4c0f0" textLength="557.5" lengthAdjust="spacingAndGlyphs" >KYLE J GILLETT | sounderpysoundings.anvil.app</text>
<rect x="924.6" y="1203.5" width="329.8" height="298.2" fill="#fff" stroke="#000" stroke-width="1.5"/>
<text x="1041.0" y="1242.8" font-size="20.91" font-weight="bold" fill="#000" textLength="71.5" lengthAdjust="spacingAndGlyphs" >RH(%)</text>
<text x="1164.7" y="1242.8" font-size="20.91" font-weight="bold" fill="#000" textLength="17.6" lengthAdjust="spacingAndGlyphs" >ω</text>
<text x="946.1" y="1282.1" font-size="21.22" font-weight="bold" fill="#000" textLength="45.0" lengthAdjust="spacingAndGlyphs" >0-.5</text>
<text x="991.1" y="1281.8" font-size="13.16" font-weight="bold" fill="#000" textLength="21.8" lengthAdjust="spacingAndGlyphs" >km</text>
<text x="1014.4" y="1282.1" font-size="21.22" font-weight="bold" fill="#000" textLength="8.2" lengthAdjust="spacingAndGlyphs" >:</text>
<line x1="949.1" y1="1259.9" x2="980.1" y2="1259.9" stroke="#000" stroke-width="2.0" />
<text x="1045.7" y="1282.0" font-size="20.91" font-weight="bold" fill="#2a8a2a" textLength="55.7" lengthAdjust="spacingAndGlyphs" >83 %</text>
<text x="1122.5" y="1282.0" font-size="20.91" font-weight="bold" fill="#2a8a2a" textLength="107.1" lengthAdjust="spacingAndGlyphs" >17.6 g/kg</text>
<text x="946.1" y="1320.9" font-size="21.22" font-weight="bold" fill="#000" textLength="37.2" lengthAdjust="spacingAndGlyphs" >0-1</text>
<text x="983.3" y="1320.6" font-size="13.16" font-weight="bold" fill="#000" textLength="21.8" lengthAdjust="spacingAndGlyphs" >km</text>
<text x="1006.6" y="1320.9" font-size="21.22" font-weight="bold" fill="#000" textLength="8.2" lengthAdjust="spacingAndGlyphs" >:</text>
<line x1="949.1" y1="1298.7" x2="980.1" y2="1298.7" stroke="#000" stroke-width="2.0" />
<text x="1045.7" y="1320.8" font-size="20.91" font-weight="bold" fill="#2a8a2a" textLength="55.7" lengthAdjust="spacingAndGlyphs" >89 %</text>
<text x="1122.5" y="1320.8" font-size="20.91" font-weight="bold" fill="#2a8a2a" textLength="107.1" lengthAdjust="spacingAndGlyphs" >17.1 g/kg</text>
<text x="946.1" y="1360.1" font-size="21.22" font-weight="bold" fill="#000" textLength="37.2" lengthAdjust="spacingAndGlyphs" >1-3</text>
<text x="983.3" y="1359.8" font-size="13.16" font-weight="bold" fill="#000" textLength="21.8" lengthAdjust="spacingAndGlyphs" >km</text>
<text x="1006.6" y="1360.1" font-size="21.22" font-weight="bold" fill="#000" textLength="8.2" lengthAdjust="spacingAndGlyphs" >:</text>
<line x1="949.1" y1="1337.9" x2="980.1" y2="1337.9" stroke="#000" stroke-width="2.0" />
<text x="1045.7" y="1360.0" font-size="20.91" font-weight="bold" fill="#3f9a3f" textLength="55.7" lengthAdjust="spacingAndGlyphs" >91 %</text>
<text x="1122.5" y="1360.0" font-size="20.91" font-weight="bold" fill="#3f9a3f" textLength="107.1" lengthAdjust="spacingAndGlyphs" >11.6 g/kg</text>
<text x="946.1" y="1399.3" font-size="21.22" font-weight="bold" fill="#000" textLength="37.2" lengthAdjust="spacingAndGlyphs" >3-6</text>
<text x="983.3" y="1399.0" font-size="13.16" font-weight="bold" fill="#000" textLength="21.8" lengthAdjust="spacingAndGlyphs" >km</text>
<text x="1006.6" y="1399.3" font-size="21.22" font-weight="bold" fill="#000" textLength="8.2" lengthAdjust="spacingAndGlyphs" >:</text>
<line x1="949.1" y1="1377.1" x2="980.1" y2="1377.1" stroke="#000" stroke-width="2.0" />
<text x="1045.7" y="1399.2" font-size="20.91" font-weight="bold" fill="#64ad64" textLength="55.7" lengthAdjust="spacingAndGlyphs" >26 %</text>
<text x="1122.5" y="1399.2" font-size="20.91" font-weight="bold" fill="#64ad64" textLength="93.0" lengthAdjust="spacingAndGlyphs" >1.9 g/kg</text>
<text x="946.1" y="1437.7" font-size="21.22" font-weight="bold" fill="#000" textLength="37.2" lengthAdjust="spacingAndGlyphs" >6-9</text>
<text x="983.3" y="1437.4" font-size="13.16" font-weight="bold" fill="#000" textLength="21.8" lengthAdjust="spacingAndGlyphs" >km</text>
<text x="1006.6" y="1437.7" font-size="21.22" font-weight="bold" fill="#000" textLength="8.2" lengthAdjust="spacingAndGlyphs" >:</text>
<line x1="949.1" y1="1415.5" x2="980.1" y2="1415.5" stroke="#000" stroke-width="2.0" />
<text x="1045.7" y="1437.6" font-size="20.91" font-weight="bold" fill="#6fb36f" textLength="55.7" lengthAdjust="spacingAndGlyphs" >31 %</text>
<text x="1122.5" y="1437.6" font-size="20.91" font-weight="bold" fill="#6fb36f" textLength="93.0" lengthAdjust="spacingAndGlyphs" >0.5 g/kg</text>
<text x="947.7" y="1466.8" font-size="16.44" font-weight="bold" fill="#000" textLength="56.1" lengthAdjust="spacingAndGlyphs" >PWAT:</text>
<text x="1024.5" y="1466.8" font-size="16.44" font-weight="bold" fill="#006400" textLength="61.8" lengthAdjust="spacingAndGlyphs" >1.74 in</text>
<text x="1115.2" y="1466.8" font-size="16.44" font-weight="bold" fill="#000" textLength="36.2" lengthAdjust="spacingAndGlyphs" >WB:</text>
<text x="1174.8" y="1466.8" font-size="16.44" font-weight="bold" fill="#006400" textLength="47.5" lengthAdjust="spacingAndGlyphs" >23 °C</text>
<text x="947.7" y="1492.9" font-size="16.44" font-weight="bold" fill="#000" textLength="41.1" lengthAdjust="spacingAndGlyphs" >FRZ:</text>
<text x="1024.9" y="1492.9" font-size="16.44" font-weight="bold" fill="#6495ed" textLength="61.0" lengthAdjust="spacingAndGlyphs" >4400m</text>
<text x="1109.5" y="1492.9" font-size="16.44" font-weight="bold" fill="#000" textLength="47.3" lengthAdjust="spacingAndGlyphs" >WB0:</text>
<text x="1169.8" y="1492.9" font-size="16.44" font-weight="bold" fill="#6495ed" textLength="61.0" lengthAdjust="spacingAndGlyphs" >3400m</text>
<rect x="1254.4" y="1203.5" width="583.4" height="298.2" fill="#fff" stroke="#000" stroke-width="1.5"/>
<text x="1375.4" y="1242.8" font-size="20.99" font-weight="bold" fill="#333" textLength="53.8" lengthAdjust="spacingAndGlyphs" >BWD</text>
<text x="1481.0" y="1242.8" font-size="20.99" font-weight="bold" fill="#333" textLength="47.4" lengthAdjust="spacingAndGlyphs" >SRH</text>
<text x="1580.0" y="1242.8" font-size="20.99" font-weight="bold" fill="#333" textLength="52.9" lengthAdjust="spacingAndGlyphs" >SRW</text>
<text x="1656.0" y="1242.8" font-size="20.99" font-weight="bold" fill="#333" textLength="69.6" lengthAdjust="spacingAndGlyphs" >SWζ%</text>
<text x="1756.0" y="1242.8" font-size="20.99" font-weight="bold" fill="#333" textLength="49.2" lengthAdjust="spacingAndGlyphs" >SWζ</text>
<text x="1274.3" y="1282.1" font-size="21.22" font-weight="bold" fill="#111" textLength="45.0" lengthAdjust="spacingAndGlyphs" >0-.5</text>
<text x="1319.3" y="1281.8" font-size="13.16" font-weight="bold" fill="#111" textLength="21.8" lengthAdjust="spacingAndGlyphs" >km</text>
<text x="1342.6" y="1282.1" font-size="21.22" font-weight="bold" fill="#111" textLength="8.2" lengthAdjust="spacingAndGlyphs" >:</text>
<text x="1369.7" y="1282.1" font-size="21.22" font-weight="bold" fill="#6495ed" textLength="59.4" lengthAdjust="spacingAndGlyphs" >28 kt</text>
<text x="1450.4" y="1282.1" font-size="21.22" font-weight="bold" fill="#6495ed" textLength="109.5" lengthAdjust="spacingAndGlyphs" >271 m²/s²</text>
<text x="1580.3" y="1282.1" font-size="21.22" font-weight="bold" fill="#6495ed" textLength="59.4" lengthAdjust="spacingAndGlyphs" >36 kt</text>
<text x="1671.3" y="1282.1" font-size="21.22" font-weight="bold" fill="#6495ed" textLength="28.7" lengthAdjust="spacingAndGlyphs" >96</text>
<text x="1749.0" y="1282.1" font-size="21.22" font-weight="bold" fill="#6495ed" textLength="65.2" lengthAdjust="spacingAndGlyphs" >0.029</text>
<text x="1274.3" y="1320.9" font-size="21.22" font-weight="bold" fill="#111" textLength="37.2" lengthAdjust="spacingAndGlyphs" >0-1</text>
<text x="1311.5" y="1320.6" font-size="13.16" font-weight="bold" fill="#111" textLength="21.8" lengthAdjust="spacingAndGlyphs" >km</text>
<text x="1334.8" y="1320.9" font-size="21.22" font-weight="bold" fill="#111" textLength="8.2" lengthAdjust="spacingAndGlyphs" >:</text>
<text x="1369.7" y="1320.9" font-size="21.22" font-weight="bold" fill="#6495ed" textLength="59.4" lengthAdjust="spacingAndGlyphs" >41 kt</text>
<text x="1450.4" y="1320.9" font-size="21.22" font-weight="bold" fill="#6495ed" textLength="109.5" lengthAdjust="spacingAndGlyphs" >391 m²/s²</text>
<text x="1580.3" y="1320.9" font-size="21.22" font-weight="bold" fill="#6495ed" textLength="59.4" lengthAdjust="spacingAndGlyphs" >34 kt</text>
<text x="1671.3" y="1320.9" font-size="21.22" font-weight="bold" fill="#6495ed" textLength="28.7" lengthAdjust="spacingAndGlyphs" >97</text>
<text x="1749.0" y="1320.9" font-size="21.22" font-weight="bold" fill="#6495ed" textLength="65.2" lengthAdjust="spacingAndGlyphs" >0.023</text>
<text x="1274.3" y="1360.1" font-size="21.22" font-weight="bold" fill="#111" textLength="37.2" lengthAdjust="spacingAndGlyphs" >1-3</text>
<text x="1311.5" y="1359.8" font-size="13.16" font-weight="bold" fill="#111" textLength="21.8" lengthAdjust="spacingAndGlyphs" >km</text>
<text x="1334.8" y="1360.1" font-size="21.22" font-weight="bold" fill="#111" textLength="8.2" lengthAdjust="spacingAndGlyphs" >:</text>
<text x="1369.7" y="1360.1" font-size="21.22" font-weight="bold" fill="#6495ed" textLength="59.4" lengthAdjust="spacingAndGlyphs" >26 kt</text>
<text x="1450.4" y="1360.1" font-size="21.22" font-weight="bold" fill="#6495ed" textLength="109.5" lengthAdjust="spacingAndGlyphs" >135 m²/s²</text>
<text x="1580.3" y="1360.1" font-size="21.22" font-weight="bold" fill="#6495ed" textLength="59.4" lengthAdjust="spacingAndGlyphs" >21 kt</text>
<text x="1671.3" y="1360.1" font-size="21.22" font-weight="bold" fill="#6495ed" textLength="28.7" lengthAdjust="spacingAndGlyphs" >64</text>
<text x="1749.0" y="1360.1" font-size="21.22" font-weight="bold" fill="#6495ed" textLength="65.2" lengthAdjust="spacingAndGlyphs" >0.007</text>
<text x="1274.3" y="1399.3" font-size="21.22" font-weight="bold" fill="#111" textLength="37.2" lengthAdjust="spacingAndGlyphs" >3-6</text>
<text x="1311.5" y="1399.0" font-size="13.16" font-weight="bold" fill="#111" textLength="21.8" lengthAdjust="spacingAndGlyphs" >km</text>
<text x="1334.8" y="1399.3" font-size="21.22" font-weight="bold" fill="#111" textLength="8.2" lengthAdjust="spacingAndGlyphs" >:</text>
<text x="1369.7" y="1399.3" font-size="21.22" font-weight="bold" fill="#6495ed" textLength="59.4" lengthAdjust="spacingAndGlyphs" >16 kt</text>
<text x="1450.4" y="1399.3" font-size="21.22" font-weight="bold" fill="#6495ed" textLength="95.1" lengthAdjust="spacingAndGlyphs" >93 m²/s²</text>
<text x="1580.3" y="1399.3" font-size="21.22" font-weight="bold" fill="#6495ed" textLength="59.4" lengthAdjust="spacingAndGlyphs" >19 kt</text>
<text x="1671.3" y="1399.3" font-size="21.22" font-weight="bold" fill="#6495ed" textLength="28.7" lengthAdjust="spacingAndGlyphs" >72</text>
<text x="1749.0" y="1399.3" font-size="21.22" font-weight="bold" fill="#6495ed" textLength="65.2" lengthAdjust="spacingAndGlyphs" >0.004</text>
<text x="1274.3" y="1437.7" font-size="21.22" font-weight="bold" fill="#111" textLength="37.2" lengthAdjust="spacingAndGlyphs" >6-9</text>
<text x="1311.5" y="1437.4" font-size="13.16" font-weight="bold" fill="#111" textLength="21.8" lengthAdjust="spacingAndGlyphs" >km</text>
<text x="1334.8" y="1437.7" font-size="21.22" font-weight="bold" fill="#111" textLength="8.2" lengthAdjust="spacingAndGlyphs" >:</text>
<text x="1369.7" y="1437.7" font-size="21.22" font-weight="bold" fill="#6495ed" textLength="59.4" lengthAdjust="spacingAndGlyphs" >14 kt</text>
<text x="1450.4" y="1437.7" font-size="21.22" font-weight="bold" fill="#6495ed" textLength="109.5" lengthAdjust="spacingAndGlyphs" >101 m²/s²</text>
<text x="1580.3" y="1437.7" font-size="21.22" font-weight="bold" fill="#6495ed" textLength="59.4" lengthAdjust="spacingAndGlyphs" >24 kt</text>
<text x="1671.3" y="1437.7" font-size="21.22" font-weight="bold" fill="#6495ed" textLength="28.7" lengthAdjust="spacingAndGlyphs" >66</text>
<text x="1749.0" y="1437.7" font-size="21.22" font-weight="bold" fill="#6495ed" textLength="65.2" lengthAdjust="spacingAndGlyphs" >0.003</text>
<text x="1275.5" y="1476.5" font-size="21.22" font-weight="bold" fill="#111" textLength="43.1" lengthAdjust="spacingAndGlyphs" >EIL:</text>
<text x="1369.7" y="1476.5" font-size="21.22" font-weight="bold" fill="#6495ed" textLength="59.4" lengthAdjust="spacingAndGlyphs" >47 kt</text>
<text x="1450.4" y="1476.5" font-size="21.22" font-weight="bold" fill="#6495ed" textLength="109.5" lengthAdjust="spacingAndGlyphs" >529 m²/s²</text>
<text x="1580.3" y="1476.5" font-size="21.22" font-weight="bold" fill="#6495ed" textLength="59.4" lengthAdjust="spacingAndGlyphs" >24 kt</text>
<text x="1671.3" y="1476.5" font-size="21.22" font-weight="bold" fill="#6495ed" textLength="28.7" lengthAdjust="spacingAndGlyphs" >80</text>
<text x="1749.0" y="1476.5" font-size="21.22" font-weight="bold" fill="#6495ed" textLength="65.2" lengthAdjust="spacingAndGlyphs" >0.013</text>
<rect x="1837.7" y="1204.0" width="142.6" height="298.1" fill="#fff"/>
<rect x="1837.7" y="1232.3" width="142.6" height="269.8" fill="#eef5fa"/>
<rect x="1980.3" y="1204.0" width="144.0" height="298.1" fill="#fff"/>
<rect x="1980.3" y="1232.3" width="144.0" height="269.8" fill="#eef5fa"/>
<rect x="2124.3" y="1204.0" width="145.2" height="298.1" fill="#fff"/>
<rect x="2124.3" y="1232.3" width="145.2" height="269.8" fill="#eef5fa"/>
<rect x="2269.5" y="1204.0" width="142.6" height="298.1" fill="#fff"/>
<rect x="2269.5" y="1232.3" width="142.6" height="269.8" fill="#eef5fa"/>
<defs><clipPath id="cp1"><rect x="1837.7" y="1204.0" width="142.6" height="298.1"/></clipPath><clipPath id="cp2"><rect x="1980.3" y="1204.0" width="144.0" height="298.1"/></clipPath><clipPath id="cp3"><rect x="2124.3" y="1204.0" width="145.2" height="298.1"/></clipPath><clipPath id="cp4"><rect x="2269.5" y="1204.0" width="142.6" height="298.1"/></clipPath></defs>
<g clip-path="url(#cp1)">
<polygon points="1837.7,1246.4 1837.7,1254.1 1922.5,1263.1 1885.3,1273.4 1886.5,1282.4 1894.3,1292.7 1914.8,1302.9 1902.0,1323.5 1873.7,1342.8 1891.7,1353.1 1943.1,1363.3 1946.9,1372.3 1967.5,1382.6 1975.2,1392.9 1975.2,1403.2 1975.2,1403.2 1970.8,1413.5 1970.1,1432.7 1973.9,1443.0 1970.1,1462.3 1973.9,1472.6 1972.6,1482.8 1963.6,1493.1 1952.1,1503.4 1835.1,1503.4" fill="#d5e3f3"/>
<polygon points="1835.1,1204.0 1896.8,1204.8 1837.7,1211.7 1835.1,1211.7" fill="#d5e3f3"/>
<line x1="1837.7" y1="1253.6" x2="1980.3" y2="1253.6" stroke="#aaa" stroke-width="1.2" />
<line x1="1837.7" y1="1303.5" x2="1980.3" y2="1303.5" stroke="#aaa" stroke-width="1.2" />
<line x1="1837.7" y1="1353.0" x2="1980.3" y2="1353.0" stroke="#aaa" stroke-width="1.2" />
<line x1="1837.7" y1="1403.2" x2="1980.3" y2="1403.2" stroke="#aaa" stroke-width="1.2" />
<line x1="1837.7" y1="1453.3" x2="1980.3" y2="1453.3" stroke="#aaa" stroke-width="1.2" />
<polyline points="1837.7,1246.4 1837.7,1254.1 1922.5,1263.1 1885.3,1273.4 1886.5,1282.4 1894.3,1292.7 1914.8,1302.9 1902.0,1323.5 1873.7,1342.8 1891.7,1353.1 1943.1,1363.3 1946.9,1372.3 1967.5,1382.6 1975.2,1392.9 1975.2,1403.2" fill="none" stroke="#ff0000" stroke-width="4.2" stroke-linejoin="round" />
<polyline points="1896.8,1204.8 1837.7,1211.7" fill="none" stroke="#ff0000" stroke-width="4.2" stroke-linejoin="round" />
<polyline points="1975.2,1403.2 1970.8,1413.5 1970.1,1432.7 1973.9,1443.0 1970.1,1462.3 1973.9,1472.6 1972.6,1482.8 1963.6,1493.1 1952.1,1503.4" fill="none" stroke="#800080" stroke-width="4.2" stroke-linejoin="round" />
</g>
<text x="1845.9" y="1227.0" font-size="14.27" font-weight="bold" fill="#000" textLength="127.5" lengthAdjust="spacingAndGlyphs" >Streamwiseness</text>
<text x="1879.7" y="1243.2" font-size="14.27" font-weight="bold" fill="#000" textLength="59.9" lengthAdjust="spacingAndGlyphs" >of ζ (%)</text>
<text x="1853.1" y="1304.0" font-size="13.96" font-weight="bold" fill="#000" textLength="37.3" lengthAdjust="spacingAndGlyphs" >2 km</text>
<text x="1853.1" y="1352.8" font-size="13.96" font-weight="bold" fill="#000" textLength="51.9" lengthAdjust="spacingAndGlyphs" >1.5 km</text>
<text x="1853.1" y="1402.9" font-size="13.96" font-weight="bold" fill="#000" textLength="37.3" lengthAdjust="spacingAndGlyphs" >1 km</text>
<text x="1853.1" y="1453.0" font-size="13.96" font-weight="bold" fill="#000" textLength="42.4" lengthAdjust="spacingAndGlyphs" >.5 km</text>
<text x="1851.6" y="1496.4" font-size="12.94" font-weight="bold" font-style="italic" fill="#777" textLength="17.5" lengthAdjust="spacingAndGlyphs" >50</text>
<text x="1897.9" y="1496.4" font-size="12.94" font-weight="bold" font-style="italic" fill="#777" textLength="17.5" lengthAdjust="spacingAndGlyphs" >70</text>
<text x="1944.1" y="1496.4" font-size="12.94" font-weight="bold" font-style="italic" fill="#777" textLength="17.5" lengthAdjust="spacingAndGlyphs" >90</text>
<g clip-path="url(#cp2)">
<polygon points="1989.3,1204.0 1990.6,1223.3 1984.2,1252.8 2020.2,1272.1 2021.5,1282.4 1998.3,1302.9 1999.6,1313.2 2020.2,1333.8 2020.2,1344.1 2000.9,1363.3 1999.6,1374.9 1994.5,1382.6 2009.9,1400.6 2018.9,1403.2 2016.3,1410.9 2006.0,1421.2 2004.8,1432.7 2020.2,1443.0 2045.9,1452.0 2047.2,1462.3 2044.6,1472.6 2056.2,1482.8 2062.6,1493.1 2062.6,1503.4 2054.9,1503.4 2058.7,1493.1 2056.2,1482.8 2044.6,1472.6 2044.6,1462.3 2045.9,1452.0 2020.2,1443.0 2004.8,1432.7 2006.0,1421.2 2016.3,1410.9 2018.9,1403.2 2009.9,1400.6 1994.5,1382.6 1994.5,1382.6 1999.6,1372.3 2000.9,1363.3 2004.8,1344.1 2004.8,1333.8 1993.2,1313.2 1994.5,1302.9 2004.8,1282.4 2004.8,1272.1 1982.9,1252.8 1984.2,1223.3 1986.8,1204.0" fill="#d6dadd"/>
<polygon points="1979.1,1204.0 1986.8,1204.0 1984.2,1223.3 1982.9,1252.8 2004.8,1272.1 2004.8,1282.4 1994.5,1302.9 1993.2,1313.2 2004.8,1333.8 2004.8,1344.1 2000.9,1363.3 1999.6,1372.3 1994.5,1382.6 1994.5,1382.6 2009.9,1400.6 2018.9,1403.2 2016.3,1410.9 2006.0,1421.2 2004.8,1432.7 2020.2,1443.0 2045.9,1452.0 2044.6,1462.3 2044.6,1472.6 2056.2,1482.8 2058.7,1493.1 2054.9,1503.4 1979.1,1503.4" fill="#ddd5be"/>
<line x1="1980.3" y1="1253.6" x2="2124.3" y2="1253.6" stroke="#aaa" stroke-width="1.2" />
<line x1="1980.3" y1="1303.5" x2="2124.3" y2="1303.5" stroke="#aaa" stroke-width="1.2" />
<line x1="1980.3" y1="1353.0" x2="2124.3" y2="1353.0" stroke="#aaa" stroke-width="1.2" />
<line x1="1980.3" y1="1403.2" x2="2124.3" y2="1403.2" stroke="#aaa" stroke-width="1.2" />
<line x1="1980.3" y1="1453.3" x2="2124.3" y2="1453.3" stroke="#aaa" stroke-width="1.2" />
<polyline points="1989.3,1204.0 1990.6,1223.3 1984.2,1252.8 2020.2,1272.1 2021.5,1282.4 1998.3,1302.9 1999.6,1313.2 2020.2,1333.8 2020.2,1344.1 2000.9,1363.3 1999.6,1374.9 1994.5,1382.6 2009.9,1400.6 2018.9,1403.2 2016.3,1410.9 2006.0,1421.2 2004.8,1432.7 2020.2,1443.0 2045.9,1452.0 2047.2,1462.3 2044.6,1472.6 2056.2,1482.8 2062.6,1493.1 2062.6,1503.4" fill="none" stroke="#888" stroke-width="4.2" stroke-linejoin="round" />
<polyline points="1986.8,1204.0 1984.2,1223.3 1982.9,1252.8 2004.8,1272.1 2004.8,1282.4 1994.5,1302.9 1993.2,1313.2 2004.8,1333.8 2004.8,1344.1 2000.9,1363.3 1999.6,1372.3 1994.5,1382.6" fill="none" stroke="#f5a623" stroke-width="4.2" stroke-linejoin="round" />
<polyline points="1994.5,1382.6 2009.9,1400.6 2018.9,1403.2 2016.3,1410.9 2006.0,1421.2 2004.8,1432.7 2020.2,1443.0 2045.9,1452.0 2044.6,1462.3 2044.6,1472.6 2056.2,1482.8 2058.7,1493.1 2054.9,1503.4" fill="none" stroke="#8b5a1a" stroke-width="4.2" stroke-linejoin="round" />
</g>
<text x="2012.5" y="1234.4" font-size="16.88" font-weight="bold" fill="#000" textLength="80.2" lengthAdjust="spacingAndGlyphs" >Total ζ &amp;</text>
<text x="1990.6" y="1252.4" font-size="16.88" font-weight="bold" fill="#000" textLength="124.0" lengthAdjust="spacingAndGlyphs" >Streamwise ζ</text>
<text x="2026.8" y="1269.1" font-size="16.88" font-weight="bold" fill="#000" textLength="51.6" lengthAdjust="spacingAndGlyphs" >(/sec)</text>
<text x="1993.7" y="1496.4" font-size="12.94" font-weight="bold" font-style="italic" fill="#777" textLength="22.2" lengthAdjust="spacingAndGlyphs" >.01</text>
<text x="2042.5" y="1496.4" font-size="12.94" font-weight="bold" font-style="italic" fill="#777" textLength="22.2" lengthAdjust="spacingAndGlyphs" >.03</text>
<text x="2090.0" y="1496.4" font-size="12.94" font-weight="bold" font-style="italic" fill="#777" textLength="22.2" lengthAdjust="spacingAndGlyphs" >.05</text>
<g clip-path="url(#cp3)">
<polygon points="2123.0,1204.0 2137.1,1204.0 2126.8,1233.6 2125.6,1263.1 2151.3,1292.7 2161.5,1323.5 2189.8,1353.1 2200.1,1382.6 2198.8,1403.2 2198.8,1403.2 2205.2,1452.0 2215.5,1472.6 2218.1,1482.8 2230.9,1503.4 2123.0,1503.4" fill="#d5e3f3"/>
<line x1="2124.3" y1="1253.6" x2="2269.5" y2="1253.6" stroke="#aaa" stroke-width="1.2" />
<line x1="2124.3" y1="1303.5" x2="2269.5" y2="1303.5" stroke="#aaa" stroke-width="1.2" />
<line x1="2124.3" y1="1353.0" x2="2269.5" y2="1353.0" stroke="#aaa" stroke-width="1.2" />
<line x1="2124.3" y1="1403.2" x2="2269.5" y2="1403.2" stroke="#aaa" stroke-width="1.2" />
<line x1="2124.3" y1="1453.3" x2="2269.5" y2="1453.3" stroke="#aaa" stroke-width="1.2" />
<polyline points="2137.1,1204.0 2126.8,1233.6 2125.6,1263.1 2151.3,1292.7 2161.5,1323.5 2189.8,1353.1 2200.1,1382.6 2198.8,1403.2" fill="none" stroke="#ff2a2a" stroke-width="4.2" stroke-linejoin="round" />
<polyline points="2198.8,1403.2 2205.2,1452.0 2215.5,1472.6 2218.1,1482.8 2230.9,1503.4" fill="none" stroke="#8a2a9a" stroke-width="4.2" stroke-linejoin="round" />
</g>
<text x="2126.9" y="1239.6" font-size="16.98" font-weight="bold" fill="#000" textLength="138.3" lengthAdjust="spacingAndGlyphs" >Storm Relative</text>
<text x="2147.6" y="1256.3" font-size="16.98" font-weight="bold" fill="#000" textLength="96.9" lengthAdjust="spacingAndGlyphs" >Wind (kts)</text>
<text x="2234.8" y="1447.8" font-size="13.60" font-weight="bold" fill="#000" textLength="38.4" lengthAdjust="spacingAndGlyphs" >-LFC-</text>
<text x="2234.8" y="1458.1" font-size="13.60" font-weight="bold" fill="#000" textLength="37.5" lengthAdjust="spacingAndGlyphs" >-LCL-</text>
<text x="2151.0" y="1496.4" font-size="12.94" font-weight="bold" font-style="italic" fill="#777" textLength="17.5" lengthAdjust="spacingAndGlyphs" >20</text>
<text x="2187.5" y="1496.4" font-size="12.94" font-weight="bold" font-style="italic" fill="#777" textLength="17.5" lengthAdjust="spacingAndGlyphs" >30</text>
<text x="2224.8" y="1496.4" font-size="12.94" font-weight="bold" font-style="italic" fill="#777" textLength="17.5" lengthAdjust="spacingAndGlyphs" >40</text>
<g clip-path="url(#cp4)">
<line x1="2269.5" y1="1253.6" x2="2412.1" y2="1253.6" stroke="#aaa" stroke-width="1.2" />
<line x1="2269.5" y1="1303.5" x2="2412.1" y2="1303.5" stroke="#aaa" stroke-width="1.2" />
<line x1="2269.5" y1="1353.0" x2="2412.1" y2="1353.0" stroke="#aaa" stroke-width="1.2" />
<line x1="2269.5" y1="1403.2" x2="2412.1" y2="1403.2" stroke="#aaa" stroke-width="1.2" />
<line x1="2269.5" y1="1453.3" x2="2412.1" y2="1453.3" stroke="#aaa" stroke-width="1.2" />
<polygon points="2340.2,1204.0 2364.6,1272.1 2372.3,1295.2 2391.6,1392.9 2412.1,1412.2 2413.4,1503.4 2340.2,1503.4" fill="#ff9a3c" fill-opacity="0.95"/>
<polygon points="2340.2,1204.0 2326.0,1225.8 2335.0,1272.1 2337.6,1297.8 2340.2,1503.4" fill="#7fbfbf"/>
<line x1="2340.2" y1="1204.0" x2="2340.2" y2="1502.1" stroke="#1f77b4" stroke-width="1.6" stroke-dasharray="2,2"/>
</g>
<text x="2296.3" y="1234.4" font-size="16.88" font-weight="bold" fill="#000" textLength="84.1" lengthAdjust="spacingAndGlyphs" >Stepwise</text>
<text x="2285.7" y="1252.4" font-size="16.88" font-weight="bold" fill="#000" textLength="105.5" lengthAdjust="spacingAndGlyphs" >CIN &amp; CAPE</text>
<text x="2313.5" y="1270.0" font-size="16.88" font-weight="bold" fill="#000" textLength="49.7" lengthAdjust="spacingAndGlyphs" >(J/kg)</text>
<g transform="translate(2290.6,1486) rotate(-45)">
<text x="-15.7" y="4.6" font-size="12.94" font-weight="bold" font-style="italic" fill="#555" textLength="31.4" lengthAdjust="spacingAndGlyphs" opacity="0.75">-200</text>
</g>
<g transform="translate(2314.5,1486) rotate(-45)">
<text x="-15.7" y="4.6" font-size="12.94" font-weight="bold" font-style="italic" fill="#555" textLength="31.4" lengthAdjust="spacingAndGlyphs" opacity="0.75">-100</text>
</g>
<g transform="translate(2338.0,1486) rotate(-45)">
<text x="-4.4" y="4.6" font-size="12.94" font-weight="bold" font-style="italic" fill="#555" textLength="8.7" lengthAdjust="spacingAndGlyphs" opacity="0.75">0</text>
</g>
<g transform="translate(2362.6,1486) rotate(-45)">
<text x="-8.5" y="4.6" font-size="12.94" font-weight="bold" font-style="italic" fill="#555" textLength="17.1" lengthAdjust="spacingAndGlyphs" opacity="0.75">1k</text>
</g>
<g transform="translate(2386.2,1486) rotate(-45)">
<text x="-8.5" y="4.6" font-size="12.94" font-weight="bold" font-style="italic" fill="#555" textLength="17.1" lengthAdjust="spacingAndGlyphs" opacity="0.75">2k</text>
</g>
<rect x="1837.7" y="1204.0" width="142.6" height="298.1" fill="none" stroke="#000" stroke-width="1.5"/>
<rect x="1980.3" y="1204.0" width="144.0" height="298.1" fill="none" stroke="#000" stroke-width="1.5"/>
<rect x="2124.3" y="1204.0" width="145.2" height="298.1" fill="none" stroke="#000" stroke-width="1.5"/>
<rect x="2269.5" y="1204.0" width="142.6" height="298.1" fill="none" stroke="#000" stroke-width="1.5"/>
<line x1="1860.3" y1="1502.1" x2="1860.3" y2="1498.1" stroke="#000" stroke-width="1.2" />
<line x1="1906.6" y1="1502.1" x2="1906.6" y2="1498.1" stroke="#000" stroke-width="1.2" />
<line x1="1952.8" y1="1502.1" x2="1952.8" y2="1498.1" stroke="#000" stroke-width="1.2" />
<line x1="2004.8" y1="1502.1" x2="2004.8" y2="1498.1" stroke="#000" stroke-width="1.2" />
<line x1="2053.6" y1="1502.1" x2="2053.6" y2="1498.1" stroke="#000" stroke-width="1.2" />
<line x1="2101.1" y1="1502.1" x2="2101.1" y2="1498.1" stroke="#000" stroke-width="1.2" />
<line x1="2159.7" y1="1502.1" x2="2159.7" y2="1498.1" stroke="#000" stroke-width="1.2" />
<line x1="2196.2" y1="1502.1" x2="2196.2" y2="1498.1" stroke="#000" stroke-width="1.2" />
<line x1="2233.5" y1="1502.1" x2="2233.5" y2="1498.1" stroke="#000" stroke-width="1.2" />
<line x1="2292.6" y1="1502.1" x2="2292.6" y2="1498.1" stroke="#000" stroke-width="1.2" />
<line x1="2316.5" y1="1502.1" x2="2316.5" y2="1498.1" stroke="#000" stroke-width="1.2" />
<line x1="2340.2" y1="1502.1" x2="2340.2" y2="1498.1" stroke="#000" stroke-width="1.2" />
<line x1="2364.6" y1="1502.1" x2="2364.6" y2="1498.1" stroke="#000" stroke-width="1.2" />
<line x1="2388.2" y1="1502.1" x2="2388.2" y2="1498.1" stroke="#000" stroke-width="1.2" />
</svg></body></html>
